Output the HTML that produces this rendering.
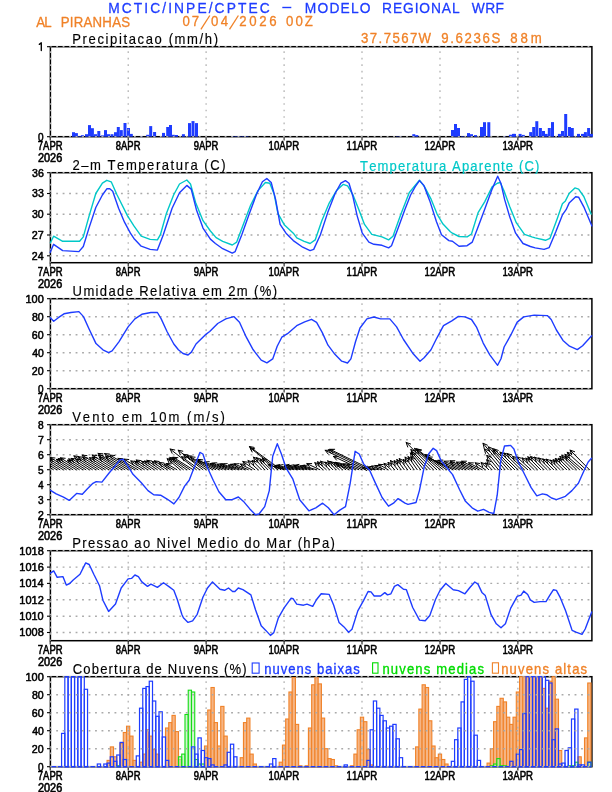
<!DOCTYPE html><html><head><meta charset="utf-8"><style>html,body{margin:0;padding:0;background:#fff;overflow:hidden;}svg{display:block;font-family:"Liberation Sans",sans-serif;}</style></head><body><svg width="612" height="792" viewBox="0 0 612 792" style="font-kerning:none;will-change:transform">
<rect width="612" height="792" fill="#fff"/>
<text transform="translate(108.17,12.50) scale(0.9200,1)" font-size="15.0" fill="#1e3cff" stroke="#1e3cff" stroke-width="0.3" stroke-linejoin="round" letter-spacing="2.262">MCTIC/INPE/CPTEC</text>
<text transform="translate(304.87,12.50) scale(0.9200,1)" font-size="15.0" fill="#1e3cff" stroke="#1e3cff" stroke-width="0.3" stroke-linejoin="round" letter-spacing="1.258">MODELO</text>
<text transform="translate(382.07,12.50) scale(0.9200,1)" font-size="15.0" fill="#1e3cff" stroke="#1e3cff" stroke-width="0.3" stroke-linejoin="round" letter-spacing="0.973">REGIONAL</text>
<text transform="translate(471.73,12.50) scale(0.9200,1)" font-size="15.0" fill="#1e3cff" stroke="#1e3cff" stroke-width="0.3" stroke-linejoin="round" letter-spacing="0.434">WRF</text>
<rect x="282.3" y="6.8" width="9.0" height="1.4" fill="#1e3cff"/>
<text transform="translate(36.27,26.60) scale(0.9200,1)" font-size="14.4" fill="#f08228" stroke="#f08228" stroke-width="0.3" stroke-linejoin="round" letter-spacing="-0.912">AL</text>
<text transform="translate(60.71,26.60) scale(0.9200,1)" font-size="14.4" fill="#f08228" stroke="#f08228" stroke-width="0.3" stroke-linejoin="round" letter-spacing="0.260">PIRANHAS</text>
<text transform="translate(182.38,26.20) scale(0.9200,1)" font-size="14.4" fill="#f08228" stroke="#f08228" stroke-width="0.3" stroke-linejoin="round" letter-spacing="2.117">07</text>
<text transform="translate(210.88,26.20) scale(0.9200,1)" font-size="14.4" fill="#f08228" stroke="#f08228" stroke-width="0.3" stroke-linejoin="round" letter-spacing="2.792">04</text>
<text transform="translate(239.34,26.20) scale(0.9200,1)" font-size="14.4" fill="#f08228" stroke="#f08228" stroke-width="0.3" stroke-linejoin="round" letter-spacing="2.819">2026</text>
<text transform="translate(286.08,26.20) scale(0.9200,1)" font-size="14.4" fill="#f08228" stroke="#f08228" stroke-width="0.3" stroke-linejoin="round" letter-spacing="2.174">00Z</text>
<text transform="translate(361.10,42.60) scale(0.9200,1)" font-size="14.4" fill="#f08228" stroke="#f08228" stroke-width="0.3" stroke-linejoin="round" letter-spacing="1.500">37.7567W</text>
<text transform="translate(441.18,42.60) scale(0.9200,1)" font-size="14.4" fill="#f08228" stroke="#f08228" stroke-width="0.3" stroke-linejoin="round" letter-spacing="1.788">9.6236S</text>
<text transform="translate(510.23,42.60) scale(0.9200,1)" font-size="14.4" fill="#f08228" stroke="#f08228" stroke-width="0.3" stroke-linejoin="round" letter-spacing="3.194">88m</text>
<line x1="200.9" y1="29.4" x2="209.8" y2="15.5" stroke="#f08228" stroke-width="1.3"/>
<line x1="229.5" y1="29.4" x2="238.4" y2="15.5" stroke="#f08228" stroke-width="1.3"/>
<rect x="50.4" y="46.7" width="541.5" height="90.0" fill="none" stroke="#000" stroke-width="1.5"/>
<line x1="50.2" y1="136.7" x2="50.2" y2="140.5" stroke="#000" stroke-width="1.0"/>
<line x1="128.2" y1="136.7" x2="128.2" y2="140.5" stroke="#000" stroke-width="1.0"/>
<line x1="206.1" y1="136.7" x2="206.1" y2="140.5" stroke="#000" stroke-width="1.0"/>
<line x1="284.1" y1="136.7" x2="284.1" y2="140.5" stroke="#000" stroke-width="1.0"/>
<line x1="362.0" y1="136.7" x2="362.0" y2="140.5" stroke="#000" stroke-width="1.0"/>
<line x1="440.0" y1="136.7" x2="440.0" y2="140.5" stroke="#000" stroke-width="1.0"/>
<line x1="517.9" y1="136.7" x2="517.9" y2="140.5" stroke="#000" stroke-width="1.0"/>
<line x1="47.0" y1="136.7" x2="50.4" y2="136.7" stroke="#000" stroke-width="1.1"/>
<line x1="47.0" y1="46.7" x2="50.4" y2="46.7" stroke="#000" stroke-width="1.1"/>
<rect x="72.0" y="132.2" width="3.0" height="4.5" fill="#1e3cff"/>
<rect x="74.9" y="133.1" width="3.0" height="3.6" fill="#1e3cff"/>
<rect x="78.0" y="136.2" width="3.0" height="0.5" fill="#1e3cff"/>
<rect x="80.9" y="135.2" width="3.0" height="1.5" fill="#1e3cff"/>
<rect x="85.0" y="134.2" width="3.0" height="2.5" fill="#1e3cff"/>
<rect x="88.0" y="125.1" width="3.0" height="11.6" fill="#1e3cff"/>
<rect x="90.9" y="128.2" width="3.0" height="8.5" fill="#1e3cff"/>
<rect x="94.0" y="134.2" width="3.0" height="2.5" fill="#1e3cff"/>
<rect x="97.3" y="131.0" width="3.0" height="5.7" fill="#1e3cff"/>
<rect x="101.0" y="135.4" width="3.0" height="1.3" fill="#1e3cff"/>
<rect x="104.0" y="130.1" width="3.0" height="6.6" fill="#1e3cff"/>
<rect x="107.0" y="134.2" width="3.0" height="2.5" fill="#1e3cff"/>
<rect x="110.5" y="134.2" width="3.0" height="2.5" fill="#1e3cff"/>
<rect x="114.0" y="132.2" width="3.0" height="4.5" fill="#1e3cff"/>
<rect x="116.8" y="127.0" width="3.0" height="9.7" fill="#1e3cff"/>
<rect x="119.8" y="130.1" width="3.0" height="6.6" fill="#1e3cff"/>
<rect x="123.5" y="123.0" width="3.0" height="13.7" fill="#1e3cff"/>
<rect x="127.0" y="128.0" width="3.0" height="8.7" fill="#1e3cff"/>
<rect x="129.8" y="133.9" width="3.0" height="2.8" fill="#1e3cff"/>
<rect x="140.0" y="136.2" width="3.0" height="0.5" fill="#1e3cff"/>
<rect x="146.2" y="134.8" width="3.0" height="1.9" fill="#1e3cff"/>
<rect x="149.2" y="126.1" width="3.0" height="10.6" fill="#1e3cff"/>
<rect x="153.1" y="132.0" width="3.0" height="4.7" fill="#1e3cff"/>
<rect x="162.0" y="132.9" width="3.0" height="3.8" fill="#1e3cff"/>
<rect x="166.2" y="127.0" width="3.0" height="9.7" fill="#1e3cff"/>
<rect x="169.0" y="125.0" width="3.0" height="11.7" fill="#1e3cff"/>
<rect x="171.8" y="134.8" width="3.0" height="1.9" fill="#1e3cff"/>
<rect x="175.0" y="135.0" width="3.0" height="1.7" fill="#1e3cff"/>
<rect x="181.9" y="134.2" width="3.0" height="2.5" fill="#1e3cff"/>
<rect x="188.0" y="123.1" width="3.0" height="13.6" fill="#1e3cff"/>
<rect x="191.5" y="121.1" width="3.0" height="15.6" fill="#1e3cff"/>
<rect x="195.0" y="123.1" width="3.0" height="13.6" fill="#1e3cff"/>
<rect x="231.5" y="136.3" width="3.0" height="0.4" fill="#1e3cff"/>
<rect x="235.0" y="136.3" width="3.0" height="0.4" fill="#1e3cff"/>
<rect x="238.5" y="136.3" width="3.0" height="0.4" fill="#1e3cff"/>
<rect x="242.0" y="136.3" width="3.0" height="0.4" fill="#1e3cff"/>
<rect x="245.5" y="136.3" width="3.0" height="0.4" fill="#1e3cff"/>
<rect x="396.0" y="136.4" width="3.0" height="0.3" fill="#1e3cff"/>
<rect x="399.0" y="136.4" width="3.0" height="0.3" fill="#1e3cff"/>
<rect x="412.3" y="134.2" width="3.0" height="2.5" fill="#1e3cff"/>
<rect x="415.3" y="135.1" width="3.0" height="1.6" fill="#1e3cff"/>
<rect x="451.0" y="130.0" width="3.0" height="6.7" fill="#1e3cff"/>
<rect x="454.0" y="124.0" width="3.0" height="12.7" fill="#1e3cff"/>
<rect x="457.0" y="128.0" width="3.0" height="8.7" fill="#1e3cff"/>
<rect x="461.0" y="136.2" width="3.0" height="0.5" fill="#1e3cff"/>
<rect x="467.0" y="133.1" width="3.0" height="3.6" fill="#1e3cff"/>
<rect x="470.0" y="134.2" width="3.0" height="2.5" fill="#1e3cff"/>
<rect x="474.0" y="135.1" width="3.0" height="1.6" fill="#1e3cff"/>
<rect x="480.0" y="127.0" width="3.0" height="9.7" fill="#1e3cff"/>
<rect x="483.0" y="122.2" width="3.0" height="14.5" fill="#1e3cff"/>
<rect x="487.3" y="122.2" width="3.0" height="14.5" fill="#1e3cff"/>
<rect x="503.0" y="136.2" width="3.0" height="0.5" fill="#1e3cff"/>
<rect x="508.9" y="134.8" width="3.0" height="1.9" fill="#1e3cff"/>
<rect x="512.0" y="133.9" width="3.0" height="2.8" fill="#1e3cff"/>
<rect x="510.0" y="134.9" width="3.0" height="1.8" fill="#1e3cff"/>
<rect x="513.0" y="133.9" width="3.0" height="2.8" fill="#1e3cff"/>
<rect x="518.6" y="133.9" width="3.0" height="2.8" fill="#1e3cff"/>
<rect x="521.8" y="134.9" width="3.0" height="1.8" fill="#1e3cff"/>
<rect x="529.2" y="132.1" width="3.0" height="4.6" fill="#1e3cff"/>
<rect x="532.2" y="127.0" width="3.0" height="9.7" fill="#1e3cff"/>
<rect x="535.3" y="121.2" width="3.0" height="15.5" fill="#1e3cff"/>
<rect x="538.9" y="128.0" width="3.0" height="8.7" fill="#1e3cff"/>
<rect x="542.0" y="131.0" width="3.0" height="5.7" fill="#1e3cff"/>
<rect x="544.7" y="133.9" width="3.0" height="2.8" fill="#1e3cff"/>
<rect x="547.8" y="128.0" width="3.0" height="8.7" fill="#1e3cff"/>
<rect x="551.0" y="122.1" width="3.0" height="14.6" fill="#1e3cff"/>
<rect x="557.9" y="133.9" width="3.0" height="2.8" fill="#1e3cff"/>
<rect x="561.0" y="131.0" width="3.0" height="5.7" fill="#1e3cff"/>
<rect x="564.2" y="114.0" width="3.0" height="22.7" fill="#1e3cff"/>
<rect x="568.0" y="127.0" width="3.0" height="9.7" fill="#1e3cff"/>
<rect x="570.8" y="128.0" width="3.0" height="8.7" fill="#1e3cff"/>
<rect x="577.0" y="133.9" width="3.0" height="2.8" fill="#1e3cff"/>
<rect x="581.0" y="133.9" width="3.0" height="2.8" fill="#1e3cff"/>
<rect x="583.9" y="132.1" width="3.0" height="4.6" fill="#1e3cff"/>
<rect x="587.1" y="128.0" width="3.0" height="8.7" fill="#1e3cff"/>
<rect x="589.9" y="133.9" width="3.0" height="2.8" fill="#1e3cff"/>
<line x1="50.4" y1="46.7" x2="50.4" y2="136.7" stroke="#aaaaaa" stroke-width="1.15" stroke-dasharray="1.7 4.78" stroke-dashoffset="1.85"/>
<line x1="128.2" y1="46.7" x2="128.2" y2="136.7" stroke="#aaaaaa" stroke-width="1.15" stroke-dasharray="1.7 4.78" stroke-dashoffset="1.85"/>
<line x1="206.1" y1="46.7" x2="206.1" y2="136.7" stroke="#aaaaaa" stroke-width="1.15" stroke-dasharray="1.7 4.78" stroke-dashoffset="1.85"/>
<line x1="284.1" y1="46.7" x2="284.1" y2="136.7" stroke="#aaaaaa" stroke-width="1.15" stroke-dasharray="1.7 4.78" stroke-dashoffset="1.85"/>
<line x1="362.0" y1="46.7" x2="362.0" y2="136.7" stroke="#aaaaaa" stroke-width="1.15" stroke-dasharray="1.7 4.78" stroke-dashoffset="1.85"/>
<line x1="440.0" y1="46.7" x2="440.0" y2="136.7" stroke="#aaaaaa" stroke-width="1.15" stroke-dasharray="1.7 4.78" stroke-dashoffset="1.85"/>
<line x1="517.9" y1="46.7" x2="517.9" y2="136.7" stroke="#aaaaaa" stroke-width="1.15" stroke-dasharray="1.7 4.78" stroke-dashoffset="1.85"/>
<line x1="50.4" y1="136.7" x2="591.9" y2="136.7" stroke="#aaaaaa" stroke-width="1.4" stroke-dasharray="1.85 4.63" stroke-dashoffset="0.72"/>
<line x1="50.4" y1="46.7" x2="591.9" y2="46.7" stroke="#aaaaaa" stroke-width="1.4" stroke-dasharray="1.85 4.63" stroke-dashoffset="0.72"/>
<rect x="50.4" y="172.7" width="541.5" height="90.0" fill="none" stroke="#000" stroke-width="1.5"/>
<line x1="50.2" y1="262.7" x2="50.2" y2="266.5" stroke="#000" stroke-width="1.0"/>
<line x1="128.2" y1="262.7" x2="128.2" y2="266.5" stroke="#000" stroke-width="1.0"/>
<line x1="206.1" y1="262.7" x2="206.1" y2="266.5" stroke="#000" stroke-width="1.0"/>
<line x1="284.1" y1="262.7" x2="284.1" y2="266.5" stroke="#000" stroke-width="1.0"/>
<line x1="362.0" y1="262.7" x2="362.0" y2="266.5" stroke="#000" stroke-width="1.0"/>
<line x1="440.0" y1="262.7" x2="440.0" y2="266.5" stroke="#000" stroke-width="1.0"/>
<line x1="517.9" y1="262.7" x2="517.9" y2="266.5" stroke="#000" stroke-width="1.0"/>
<line x1="47.0" y1="255.8" x2="50.4" y2="255.8" stroke="#000" stroke-width="1.1"/>
<line x1="47.0" y1="235.0" x2="50.4" y2="235.0" stroke="#000" stroke-width="1.1"/>
<line x1="47.0" y1="214.2" x2="50.4" y2="214.2" stroke="#000" stroke-width="1.1"/>
<line x1="47.0" y1="193.5" x2="50.4" y2="193.5" stroke="#000" stroke-width="1.1"/>
<line x1="47.0" y1="172.7" x2="50.4" y2="172.7" stroke="#000" stroke-width="1.1"/>
<line x1="50.4" y1="172.7" x2="50.4" y2="262.7" stroke="#aaaaaa" stroke-width="1.15" stroke-dasharray="1.7 4.78" stroke-dashoffset="1.85"/>
<line x1="128.2" y1="172.7" x2="128.2" y2="262.7" stroke="#aaaaaa" stroke-width="1.15" stroke-dasharray="1.7 4.78" stroke-dashoffset="1.85"/>
<line x1="206.1" y1="172.7" x2="206.1" y2="262.7" stroke="#aaaaaa" stroke-width="1.15" stroke-dasharray="1.7 4.78" stroke-dashoffset="1.85"/>
<line x1="284.1" y1="172.7" x2="284.1" y2="262.7" stroke="#aaaaaa" stroke-width="1.15" stroke-dasharray="1.7 4.78" stroke-dashoffset="1.85"/>
<line x1="362.0" y1="172.7" x2="362.0" y2="262.7" stroke="#aaaaaa" stroke-width="1.15" stroke-dasharray="1.7 4.78" stroke-dashoffset="1.85"/>
<line x1="440.0" y1="172.7" x2="440.0" y2="262.7" stroke="#aaaaaa" stroke-width="1.15" stroke-dasharray="1.7 4.78" stroke-dashoffset="1.85"/>
<line x1="517.9" y1="172.7" x2="517.9" y2="262.7" stroke="#aaaaaa" stroke-width="1.15" stroke-dasharray="1.7 4.78" stroke-dashoffset="1.85"/>
<line x1="50.4" y1="255.8" x2="591.9" y2="255.8" stroke="#aaaaaa" stroke-width="1.4" stroke-dasharray="1.85 4.63" stroke-dashoffset="0.72"/>
<line x1="50.4" y1="235.0" x2="591.9" y2="235.0" stroke="#aaaaaa" stroke-width="1.4" stroke-dasharray="1.85 4.63" stroke-dashoffset="0.72"/>
<line x1="50.4" y1="214.2" x2="591.9" y2="214.2" stroke="#aaaaaa" stroke-width="1.4" stroke-dasharray="1.85 4.63" stroke-dashoffset="0.72"/>
<line x1="50.4" y1="193.5" x2="591.9" y2="193.5" stroke="#aaaaaa" stroke-width="1.4" stroke-dasharray="1.85 4.63" stroke-dashoffset="0.72"/>
<line x1="50.4" y1="172.7" x2="591.9" y2="172.7" stroke="#aaaaaa" stroke-width="1.4" stroke-dasharray="1.85 4.63" stroke-dashoffset="0.72"/>
<polyline points="50.4,242.8 53.6,236.2 62.7,241.3 79.6,241.3 83.3,236.9 89.2,215.6 95.8,193.5 102.4,183.2 106.8,180.3 111.2,181.8 117.1,195.0 127.4,215.6 133.9,225.9 141.2,236.2 150.1,239.4 157.4,239.9 160.4,234.7 166.2,214.1 173.6,195.0 179.5,184.0 186.8,180.0 190.5,184.0 195.6,202.4 203.0,220.7 210.4,231.0 216.1,237.6 222.7,241.3 232.3,245.0 236.7,242.1 243.3,224.4 250.6,205.3 258.0,190.6 265.4,182.5 269.8,183.2 274.2,194.3 277.9,213.4 284.5,225.1 293.3,233.2 296.8,237.9 304.2,241.3 310.1,243.5 315.2,239.9 321.8,220.7 329.2,203.1 336.5,190.6 343.1,184.4 347.6,185.9 352.7,194.3 358.6,209.0 364.5,224.4 371.8,234.4 382.0,236.9 388.6,239.9 393.0,236.2 400.4,215.6 409.2,192.8 415.1,185.4 419.5,180.3 424.6,186.9 431.2,199.4 437.1,214.1 443.0,224.1 450.4,231.8 452.4,233.2 459.0,236.5 467.1,236.9 471.5,234.0 478.1,212.6 484.8,201.6 492.1,186.9 497.3,183.2 500.2,182.5 503.9,190.6 509.8,206.8 516.4,222.9 524.5,234.4 531.8,236.9 535.2,237.9 545.5,240.3 549.9,238.4 557.3,218.5 562.4,203.8 565.4,200.9 569.1,193.5 574.9,187.9 578.6,189.1 583.8,196.5 591.1,214.1" fill="none" stroke="#00c8c8" stroke-width="1.4" stroke-linejoin="round" stroke-linecap="round"/>
<polyline points="50.2,252.4 53.6,244.3 62.7,250.6 78.9,251.6 83.3,246.5 89.2,227.4 95.8,207.5 102.4,195.0 106.8,188.8 109.8,188.8 112.7,191.3 118.6,208.2 124.5,222.2 130.4,233.2 133.9,238.4 141.2,246.2 150.1,249.4 157.4,250.1 163.3,234.7 172.1,208.2 179.5,192.8 186.8,185.4 191.2,189.1 196.4,209.7 203.0,228.1 210.4,239.1 215.4,243.5 222.7,248.7 232.3,253.1 235.2,251.6 241.8,234.7 249.2,214.1 256.5,194.3 262.4,181.8 266.8,178.5 271.2,182.5 275.6,199.4 280.1,224.4 286.0,233.2 293.3,240.6 302.7,247.2 310.1,250.6 313.7,249.4 320.4,234.7 327.7,212.6 335.1,193.5 340.9,183.2 345.4,180.6 349.0,183.2 352.7,195.7 357.1,215.6 362.3,233.2 368.9,242.1 373.9,244.3 382.0,245.3 388.6,247.9 391.5,245.7 398.9,225.9 404.8,209.7 410.6,195.0 415.1,186.9 419.5,180.6 423.9,185.4 429.8,200.9 436.4,221.5 441.5,234.7 448.9,240.6 452.4,241.3 459.0,246.2 467.1,245.7 472.3,242.1 477.4,228.8 484.8,209.0 492.1,189.1 497.7,176.2 500.9,183.2 504.6,199.4 509.8,217.1 515.6,233.2 523.0,243.5 530.4,246.5 535.2,247.9 544.1,249.4 549.2,247.6 555.8,231.8 562.4,214.9 566.1,209.7 569.1,203.1 575.7,196.8 578.6,197.2 583.8,206.8 591.9,225.9" fill="none" stroke="#1e3cff" stroke-width="1.4" stroke-linejoin="round" stroke-linecap="round"/>
<rect x="50.4" y="298.7" width="541.5" height="90.0" fill="none" stroke="#000" stroke-width="1.5"/>
<line x1="50.2" y1="388.7" x2="50.2" y2="392.5" stroke="#000" stroke-width="1.0"/>
<line x1="128.2" y1="388.7" x2="128.2" y2="392.5" stroke="#000" stroke-width="1.0"/>
<line x1="206.1" y1="388.7" x2="206.1" y2="392.5" stroke="#000" stroke-width="1.0"/>
<line x1="284.1" y1="388.7" x2="284.1" y2="392.5" stroke="#000" stroke-width="1.0"/>
<line x1="362.0" y1="388.7" x2="362.0" y2="392.5" stroke="#000" stroke-width="1.0"/>
<line x1="440.0" y1="388.7" x2="440.0" y2="392.5" stroke="#000" stroke-width="1.0"/>
<line x1="517.9" y1="388.7" x2="517.9" y2="392.5" stroke="#000" stroke-width="1.0"/>
<line x1="47.0" y1="388.7" x2="50.4" y2="388.7" stroke="#000" stroke-width="1.1"/>
<line x1="47.0" y1="370.7" x2="50.4" y2="370.7" stroke="#000" stroke-width="1.1"/>
<line x1="47.0" y1="352.7" x2="50.4" y2="352.7" stroke="#000" stroke-width="1.1"/>
<line x1="47.0" y1="334.7" x2="50.4" y2="334.7" stroke="#000" stroke-width="1.1"/>
<line x1="47.0" y1="316.7" x2="50.4" y2="316.7" stroke="#000" stroke-width="1.1"/>
<line x1="47.0" y1="298.7" x2="50.4" y2="298.7" stroke="#000" stroke-width="1.1"/>
<line x1="50.4" y1="298.7" x2="50.4" y2="388.7" stroke="#aaaaaa" stroke-width="1.15" stroke-dasharray="1.7 4.78" stroke-dashoffset="1.85"/>
<line x1="128.2" y1="298.7" x2="128.2" y2="388.7" stroke="#aaaaaa" stroke-width="1.15" stroke-dasharray="1.7 4.78" stroke-dashoffset="1.85"/>
<line x1="206.1" y1="298.7" x2="206.1" y2="388.7" stroke="#aaaaaa" stroke-width="1.15" stroke-dasharray="1.7 4.78" stroke-dashoffset="1.85"/>
<line x1="284.1" y1="298.7" x2="284.1" y2="388.7" stroke="#aaaaaa" stroke-width="1.15" stroke-dasharray="1.7 4.78" stroke-dashoffset="1.85"/>
<line x1="362.0" y1="298.7" x2="362.0" y2="388.7" stroke="#aaaaaa" stroke-width="1.15" stroke-dasharray="1.7 4.78" stroke-dashoffset="1.85"/>
<line x1="440.0" y1="298.7" x2="440.0" y2="388.7" stroke="#aaaaaa" stroke-width="1.15" stroke-dasharray="1.7 4.78" stroke-dashoffset="1.85"/>
<line x1="517.9" y1="298.7" x2="517.9" y2="388.7" stroke="#aaaaaa" stroke-width="1.15" stroke-dasharray="1.7 4.78" stroke-dashoffset="1.85"/>
<line x1="50.4" y1="388.7" x2="591.9" y2="388.7" stroke="#aaaaaa" stroke-width="1.4" stroke-dasharray="1.85 4.63" stroke-dashoffset="0.72"/>
<line x1="50.4" y1="370.7" x2="591.9" y2="370.7" stroke="#aaaaaa" stroke-width="1.4" stroke-dasharray="1.85 4.63" stroke-dashoffset="0.72"/>
<line x1="50.4" y1="352.7" x2="591.9" y2="352.7" stroke="#aaaaaa" stroke-width="1.4" stroke-dasharray="1.85 4.63" stroke-dashoffset="0.72"/>
<line x1="50.4" y1="334.7" x2="591.9" y2="334.7" stroke="#aaaaaa" stroke-width="1.4" stroke-dasharray="1.85 4.63" stroke-dashoffset="0.72"/>
<line x1="50.4" y1="316.7" x2="591.9" y2="316.7" stroke="#aaaaaa" stroke-width="1.4" stroke-dasharray="1.85 4.63" stroke-dashoffset="0.72"/>
<line x1="50.4" y1="298.7" x2="591.9" y2="298.7" stroke="#aaaaaa" stroke-width="1.4" stroke-dasharray="1.85 4.63" stroke-dashoffset="0.72"/>
<polyline points="50.3,317.7 53.7,321.2 58.3,317.7 64.0,313.8 70.9,312.5 78.9,311.6 83.5,316.6 89.2,329.2 96.0,343.6 102.9,349.8 108.6,352.7 112.1,350.9 118.9,341.8 128.1,326.9 134.9,318.9 141.8,314.3 150.9,312.5 157.4,312.5 161.2,318.9 167.0,331.5 173.8,344.0 178.4,349.8 183.0,353.5 188.0,355.0 191.4,352.1 196.0,344.0 205.2,334.9 209.7,331.5 217.7,323.5 225.8,318.9 233.8,316.6 239.5,322.3 246.3,337.2 253.2,349.8 261.2,360.1 266.9,362.8 272.7,358.9 277.2,346.3 281.8,337.2 287.5,333.7 296.7,325.7 304.7,321.9 311.5,319.3 316.6,322.3 322.3,332.6 328.0,345.2 334.9,354.3 341.7,361.2 347.5,363.0 350.9,358.9 355.5,341.8 360.0,328.0 366.9,318.9 373.8,317.0 380.6,318.9 389.8,318.9 396.6,326.9 403.5,339.5 412.7,353.2 420.0,361.2 424.1,357.8 431.0,349.8 436.7,338.3 443.5,325.7 451.8,320.8 458.4,316.4 464.9,316.9 471.5,319.5 476.7,327.4 483.2,343.1 489.8,354.8 497.6,365.3 501.0,358.7 504.1,347.0 510.7,335.2 517.2,322.1 523.7,316.9 534.2,315.1 547.3,315.6 551.2,319.5 556.4,330.0 563.0,340.4 569.5,346.2 577.3,349.6 582.6,345.7 591.7,335.7" fill="none" stroke="#1e3cff" stroke-width="1.4" stroke-linejoin="round" stroke-linecap="round"/>
<rect x="50.4" y="424.7" width="541.5" height="90.0" fill="none" stroke="#000" stroke-width="1.5"/>
<line x1="50.2" y1="514.7" x2="50.2" y2="518.5" stroke="#000" stroke-width="1.0"/>
<line x1="128.2" y1="514.7" x2="128.2" y2="518.5" stroke="#000" stroke-width="1.0"/>
<line x1="206.1" y1="514.7" x2="206.1" y2="518.5" stroke="#000" stroke-width="1.0"/>
<line x1="284.1" y1="514.7" x2="284.1" y2="518.5" stroke="#000" stroke-width="1.0"/>
<line x1="362.0" y1="514.7" x2="362.0" y2="518.5" stroke="#000" stroke-width="1.0"/>
<line x1="440.0" y1="514.7" x2="440.0" y2="518.5" stroke="#000" stroke-width="1.0"/>
<line x1="517.9" y1="514.7" x2="517.9" y2="518.5" stroke="#000" stroke-width="1.0"/>
<line x1="47.0" y1="514.7" x2="50.4" y2="514.7" stroke="#000" stroke-width="1.1"/>
<line x1="47.0" y1="499.7" x2="50.4" y2="499.7" stroke="#000" stroke-width="1.1"/>
<line x1="47.0" y1="484.7" x2="50.4" y2="484.7" stroke="#000" stroke-width="1.1"/>
<line x1="47.0" y1="469.7" x2="50.4" y2="469.7" stroke="#000" stroke-width="1.1"/>
<line x1="47.0" y1="454.7" x2="50.4" y2="454.7" stroke="#000" stroke-width="1.1"/>
<line x1="47.0" y1="439.7" x2="50.4" y2="439.7" stroke="#000" stroke-width="1.1"/>
<line x1="47.0" y1="424.7" x2="50.4" y2="424.7" stroke="#000" stroke-width="1.1"/>
<line x1="50.4" y1="424.7" x2="50.4" y2="514.7" stroke="#aaaaaa" stroke-width="1.15" stroke-dasharray="1.7 4.78" stroke-dashoffset="1.85"/>
<line x1="128.2" y1="424.7" x2="128.2" y2="514.7" stroke="#aaaaaa" stroke-width="1.15" stroke-dasharray="1.7 4.78" stroke-dashoffset="1.85"/>
<line x1="206.1" y1="424.7" x2="206.1" y2="514.7" stroke="#aaaaaa" stroke-width="1.15" stroke-dasharray="1.7 4.78" stroke-dashoffset="1.85"/>
<line x1="284.1" y1="424.7" x2="284.1" y2="514.7" stroke="#aaaaaa" stroke-width="1.15" stroke-dasharray="1.7 4.78" stroke-dashoffset="1.85"/>
<line x1="362.0" y1="424.7" x2="362.0" y2="514.7" stroke="#aaaaaa" stroke-width="1.15" stroke-dasharray="1.7 4.78" stroke-dashoffset="1.85"/>
<line x1="440.0" y1="424.7" x2="440.0" y2="514.7" stroke="#aaaaaa" stroke-width="1.15" stroke-dasharray="1.7 4.78" stroke-dashoffset="1.85"/>
<line x1="517.9" y1="424.7" x2="517.9" y2="514.7" stroke="#aaaaaa" stroke-width="1.15" stroke-dasharray="1.7 4.78" stroke-dashoffset="1.85"/>
<line x1="50.4" y1="514.7" x2="591.9" y2="514.7" stroke="#aaaaaa" stroke-width="1.4" stroke-dasharray="1.85 4.63" stroke-dashoffset="0.72"/>
<line x1="50.4" y1="499.7" x2="591.9" y2="499.7" stroke="#aaaaaa" stroke-width="1.4" stroke-dasharray="1.85 4.63" stroke-dashoffset="0.72"/>
<line x1="50.4" y1="484.7" x2="591.9" y2="484.7" stroke="#aaaaaa" stroke-width="1.4" stroke-dasharray="1.85 4.63" stroke-dashoffset="0.72"/>
<line x1="50.4" y1="469.7" x2="591.9" y2="469.7" stroke="#aaaaaa" stroke-width="1.4" stroke-dasharray="1.85 4.63" stroke-dashoffset="0.72"/>
<line x1="50.4" y1="454.7" x2="591.9" y2="454.7" stroke="#aaaaaa" stroke-width="1.4" stroke-dasharray="1.85 4.63" stroke-dashoffset="0.72"/>
<line x1="50.4" y1="439.7" x2="591.9" y2="439.7" stroke="#aaaaaa" stroke-width="1.4" stroke-dasharray="1.85 4.63" stroke-dashoffset="0.72"/>
<line x1="50.4" y1="424.7" x2="591.9" y2="424.7" stroke="#aaaaaa" stroke-width="1.4" stroke-dasharray="1.85 4.63" stroke-dashoffset="0.72"/>
<defs><clipPath id="cw"><rect x="50.4" y="424.7" width="541.5" height="90"/></clipPath></defs>
<g clip-path="url(#cw)" stroke="#000" stroke-width="1.0" fill="none" stroke-linecap="round" stroke-linejoin="round">
<path d="M50.2,469.7L31.5,458.0M34.1,462.1L31.5,458.0L36.3,458.5"/>
<path d="M53.4,469.7L35.4,458.4M38.0,462.5L35.4,458.4L40.2,458.9"/>
<path d="M56.7,469.7L39.8,459.2M42.4,463.2L39.8,459.2L44.6,459.7"/>
<path d="M59.9,469.7L40.7,457.7M43.3,461.7L40.7,457.7L45.5,458.2"/>
<path d="M63.2,469.7L45.9,458.9M48.4,463.0L45.9,458.9L50.7,459.4"/>
<path d="M66.4,469.7L49.2,458.9M51.8,463.0L49.2,458.9L54.0,459.4"/>
<path d="M69.7,469.7L50.2,457.5M52.7,461.6L50.2,457.5L55.0,458.0"/>
<path d="M72.9,469.7L56.4,459.4M58.9,463.4L56.4,459.4L61.2,459.9"/>
<path d="M76.2,469.7L58.2,458.5M60.8,462.5L58.2,458.5L63.0,459.0"/>
<path d="M79.4,469.7L60.5,457.8M63.0,461.9L60.5,457.8L65.2,458.3"/>
<path d="M82.7,469.7L67.5,460.2M70.0,464.3L67.5,460.2L72.3,460.7"/>
<path d="M85.9,469.7L68.7,458.9M71.3,463.0L68.7,458.9L73.5,459.4"/>
<path d="M89.2,469.7L71.3,458.4M73.8,462.5L71.3,458.4L76.1,458.9"/>
<path d="M92.4,469.7L76.2,459.3M78.7,463.4L76.2,459.3L81.0,459.9"/>
<path d="M95.7,469.7L73.9,455.9M76.4,460.0L73.9,455.9L78.7,456.5"/>
<path d="M98.9,469.7L78.2,456.7M80.7,460.7L78.2,456.7L82.9,457.2"/>
<path d="M102.2,469.7L82.9,457.6M85.5,461.7L82.9,457.6L87.7,458.1"/>
<path d="M105.4,469.7L82.1,455.1M84.6,459.1L82.1,455.1L86.9,455.6"/>
<path d="M108.7,469.7L89.5,457.7M92.1,461.8L89.5,457.7L94.3,458.2"/>
<path d="M111.9,469.7L92.2,457.3M94.7,461.4L92.2,457.3L97.0,457.8"/>
<path d="M115.2,469.7L92.1,455.0M94.6,459.1L92.1,455.0L96.9,455.6"/>
<path d="M118.4,469.7L99.4,457.5M101.9,461.6L99.4,457.5L104.1,458.1"/>
<path d="M121.7,469.7L98.2,455.1M100.7,459.1L98.2,455.1L103.0,455.6"/>
<path d="M124.9,469.7L98.1,453.4M100.7,457.4L98.1,453.4L102.9,453.8"/>
<path d="M128.2,469.7L105.7,456.2M108.3,460.2L105.7,456.2L110.5,456.6"/>
<path d="M131.4,469.7L104.6,453.6M107.3,457.6L104.6,453.6L109.4,454.0"/>
<path d="M134.6,469.7L110.0,455.1M112.6,459.1L110.0,455.1L114.8,455.5"/>
<path d="M137.9,469.7L118.0,458.4M120.7,462.3L118.0,458.4L122.7,458.7"/>
<path d="M141.1,469.7L124.0,459.1M126.6,463.1L124.0,459.1L128.8,459.5"/>
<path d="M144.4,469.7L130.8,460.9M133.3,465.0L130.8,460.9L135.6,461.5"/>
<path d="M147.6,469.7L134.8,461.3M137.2,465.4L134.8,461.3L139.5,461.9"/>
<path d="M150.9,469.7L136.2,460.0M138.7,464.1L136.2,460.0L141.0,460.6"/>
<path d="M154.1,469.7L141.6,461.3M144.0,465.5L141.6,461.3L146.4,462.0"/>
<path d="M157.4,469.7L144.5,461.0M146.9,465.2L144.5,461.0L149.3,461.7"/>
<path d="M160.6,469.7L146.9,460.3M149.3,464.5L146.9,460.3L151.7,461.0"/>
<path d="M163.9,469.7L152.1,461.5M154.4,465.7L152.1,461.5L156.8,462.2"/>
<path d="M167.1,469.7L154.4,460.8M156.7,465.0L154.4,460.8L159.1,461.5"/>
<path d="M170.4,469.7L159.1,462.4M161.6,466.5L159.1,462.4L163.9,463.0"/>
<path d="M173.6,469.7L164.1,464.0M166.8,468.0L164.1,464.0L168.9,464.4"/>
<path d="M176.9,469.7L166.5,463.5M169.1,467.5L166.5,463.5L171.3,463.9"/>
<path d="M180.1,469.7L167.1,458.7M169.1,463.1L167.1,458.7L171.8,459.9"/>
<path d="M183.4,469.7L169.0,458.5M171.1,462.8L169.0,458.5L173.7,459.5"/>
<path d="M186.6,469.7L169.8,457.5M172.1,461.8L169.8,457.5L174.6,458.4"/>
<path d="M189.9,469.7L171.9,457.7M174.3,461.8L171.9,457.7L176.6,458.3"/>
<path d="M193.1,469.7L173.1,457.2M175.7,461.3L173.1,457.2L177.9,457.7"/>
<path d="M196.4,469.7L170.1,449.0M172.1,453.3L170.1,449.0L174.8,450.0"/>
<path d="M199.6,469.7L181.6,456.7M183.9,460.9L181.6,456.7L186.3,457.5"/>
<path d="M202.9,469.7L178.2,450.2M180.2,454.5L178.2,450.2L182.8,451.2"/>
<path d="M206.1,469.7L183.4,454.3M185.8,458.5L183.4,454.3L188.2,455.0"/>
<path d="M209.4,469.7L187.2,455.6M189.7,459.7L187.2,455.6L192.0,456.1"/>
<path d="M212.6,469.7L190.3,456.8M193.0,460.8L190.3,456.8L195.1,457.2"/>
<path d="M215.8,469.7L196.3,459.4M199.2,463.3L196.3,459.4L201.1,459.6"/>
<path d="M219.1,469.7L198.0,459.9M201.1,463.6L198.0,459.9L202.8,459.8"/>
<path d="M222.3,469.7L204.5,461.9M207.6,465.6L204.5,461.9L209.3,461.7"/>
<path d="M225.6,469.7L210.3,463.5M213.5,467.1L210.3,463.5L215.0,463.2"/>
<path d="M228.8,469.7L212.0,463.2M215.3,466.7L212.0,463.2L216.8,462.8"/>
<path d="M232.1,469.7L217.3,464.2M220.6,467.7L217.3,464.2L222.1,463.7"/>
<path d="M235.3,469.7L220.2,464.3M223.6,467.7L220.2,464.3L225.0,463.8"/>
<path d="M238.6,469.7L222.4,464.2M225.8,467.6L222.4,464.2L227.2,463.6"/>
<path d="M241.8,469.7L228.4,465.0M231.8,468.4L228.4,465.0L233.2,464.5"/>
<path d="M245.1,469.7L230.7,464.3M234.0,467.8L230.7,464.3L235.4,463.8"/>
<path d="M248.3,469.7L234.3,464.0M237.5,467.6L234.3,464.0L239.1,463.7"/>
<path d="M251.6,469.7L240.4,464.1M243.3,467.9L240.4,464.1L245.2,464.2"/>
<path d="M254.8,469.7L242.8,461.5M245.2,465.7L242.8,461.5L247.5,462.2"/>
<path d="M258.1,469.7L248.0,460.6M249.8,465.1L248.0,460.6L252.6,461.9"/>
<path d="M261.3,469.7L252.2,460.4M253.7,465.0L252.2,460.4L256.7,462.0"/>
<path d="M264.6,469.7L253.5,457.1M254.8,461.8L253.5,457.1L257.9,459.0"/>
<path d="M267.8,469.7L256.5,457.6M257.9,462.2L256.5,457.6L261.0,459.3"/>
<path d="M271.1,469.7L260.1,459.2M261.7,463.7L260.1,459.2L264.6,460.7"/>
<path d="M274.3,469.7L262.3,458.2M264.0,462.7L262.3,458.2L266.9,459.7"/>
<path d="M277.6,469.7L250.1,447.7M252.1,452.0L250.1,447.7L254.7,448.8"/>
<path d="M280.8,469.7L249.4,446.5M251.6,450.8L249.4,446.5L254.1,447.4"/>
<path d="M284.1,469.7L268.1,464.7M271.5,468.0L268.1,464.7L272.8,464.0"/>
<path d="M287.3,469.7L274.1,466.2M277.8,469.3L274.1,466.2L278.9,465.3"/>
<path d="M290.6,469.7L275.0,465.5M278.6,468.6L275.0,465.5L279.7,464.6"/>
<path d="M293.8,469.7L278.4,465.5M282.0,468.7L278.4,465.5L283.1,464.6"/>
<path d="M297.0,469.7L284.1,466.2M287.7,469.3L284.1,466.2L288.8,465.3"/>
<path d="M300.3,469.7L284.4,465.3M288.0,468.5L284.4,465.3L289.1,464.4"/>
<path d="M303.5,469.7L289.2,465.7M292.8,468.9L289.2,465.7L293.9,464.8"/>
<path d="M306.8,469.7L293.6,466.0M297.2,469.2L293.6,466.0L298.4,465.2"/>
<path d="M310.0,469.7L294.3,465.3M297.9,468.5L294.3,465.3L299.0,464.4"/>
<path d="M313.3,469.7L299.9,465.9M303.5,469.1L299.9,465.9L304.6,465.1"/>
<path d="M316.5,469.7L303.0,465.8M306.6,469.0L303.0,465.8L307.7,465.0"/>
<path d="M319.8,469.7L306.9,463.6M309.9,467.4L306.9,463.6L311.7,463.6"/>
<path d="M323.0,469.7L314.8,462.7M316.7,467.1L314.8,462.7L319.5,463.9"/>
<path d="M326.3,469.7L317.5,461.8M319.3,466.3L317.5,461.8L322.1,463.1"/>
<path d="M329.5,469.7L320.6,461.2M322.3,465.7L320.6,461.2L325.2,462.6"/>
<path d="M332.8,469.7L325.2,462.1M326.7,466.6L325.2,462.1L329.7,463.7"/>
<path d="M336.0,469.7L327.7,460.8M329.1,465.4L327.7,460.8L332.2,462.5"/>
<path d="M339.3,469.7L330.5,461.6M332.2,466.0L330.5,461.6L335.1,462.9"/>
<path d="M342.5,469.7L333.7,462.6M335.8,466.9L333.7,462.6L338.4,463.7"/>
<path d="M345.8,469.7L335.3,462.3M337.6,466.5L335.3,462.3L340.0,463.1"/>
<path d="M349.0,469.7L337.2,463.8M340.1,467.6L337.2,463.8L342.0,463.8"/>
<path d="M352.3,469.7L340.5,464.1M343.5,467.9L340.5,464.1L345.3,464.1"/>
<path d="M355.5,469.7L343.0,464.0M346.1,467.7L343.0,464.0L347.8,463.9"/>
<path d="M358.8,469.7L347.1,464.7M350.2,468.3L347.1,464.7L351.9,464.4"/>
<path d="M362.0,469.7L333.4,456.4M336.5,460.1L333.4,456.4L338.2,456.3"/>
<path d="M365.3,469.7L325.2,450.3M328.2,454.1L325.2,450.3L330.0,450.3"/>
<path d="M368.5,469.7L328.5,449.8M331.4,453.6L328.5,449.8L333.3,449.8"/>
<path d="M371.8,469.7L329.9,449.3M332.9,453.1L329.9,449.3L334.7,449.3"/>
<path d="M375.0,469.7L362.7,467.7M366.6,470.5L362.7,467.7L367.3,466.3"/>
<path d="M378.2,469.7L367.7,467.1M371.4,470.2L367.7,467.1L372.4,466.1"/>
<path d="M381.5,469.7L371.4,466.3M374.8,469.7L371.4,466.3L376.1,465.7"/>
<path d="M384.7,469.7L375.1,465.6M378.2,469.2L375.1,465.6L379.8,465.4"/>
<path d="M388.0,469.7L378.7,464.3M381.3,468.3L378.7,464.3L383.4,464.6"/>
<path d="M391.2,469.7L384.0,463.4M385.7,467.4L384.0,463.4L388.2,464.5"/>
<path d="M394.5,469.7L388.0,462.3M389.2,466.6L388.0,462.3L392.1,464.0"/>
<path d="M397.7,469.7L390.5,460.5M391.5,465.2L390.5,460.5L394.8,462.6"/>
<path d="M401.0,469.7L394.3,460.6M395.1,465.3L394.3,460.6L398.5,462.8"/>
<path d="M404.2,469.7L396.8,459.5M397.6,464.2L396.8,459.5L401.0,461.7"/>
<path d="M407.5,469.7L399.3,458.5M400.2,463.3L399.3,458.5L403.6,460.8"/>
<path d="M410.7,469.7L403.3,459.4M404.1,464.1L403.3,459.4L407.5,461.7"/>
<path d="M414.0,469.7L405.1,457.1M405.8,461.9L405.1,457.1L409.3,459.4"/>
<path d="M417.2,469.7L408.1,456.6M408.9,461.4L408.1,456.6L412.3,459.0"/>
<path d="M420.5,469.7L410.9,456.8M411.8,461.5L410.9,456.8L415.2,459.0"/>
<path d="M423.7,469.7L410.4,452.9M411.4,457.6L410.4,452.9L414.7,455.0"/>
<path d="M427.0,469.7L411.5,452.1M412.7,456.7L411.5,452.1L415.9,453.9"/>
<path d="M430.2,469.7L410.9,449.6M412.4,454.2L410.9,449.6L415.4,451.2"/>
<path d="M433.5,469.7L406.1,442.4M407.7,447.0L406.1,442.4L410.6,444.0"/>
<path d="M436.7,469.7L414.5,448.4M416.1,452.9L414.5,448.4L419.0,449.8"/>
<path d="M440.0,469.7L416.4,449.2M418.3,453.6L416.4,449.2L421.1,450.5"/>
<path d="M443.2,469.7L416.8,448.9M418.9,453.2L416.8,448.9L421.5,449.9"/>
<path d="M446.5,469.7L425.1,454.8M427.5,459.0L425.1,454.8L429.9,455.5"/>
<path d="M449.7,469.7L424.9,454.8M427.5,458.9L424.9,454.8L429.7,455.2"/>
<path d="M453.0,469.7L427.5,457.0M430.4,460.8L427.5,457.0L432.3,457.1"/>
<path d="M456.2,469.7L435.5,460.9M438.6,464.5L435.5,460.9L440.3,460.7"/>
<path d="M459.4,469.7L438.1,460.3M441.2,463.9L438.1,460.3L442.9,460.1"/>
<path d="M462.7,469.7L444.0,461.2M447.0,464.9L444.0,461.2L448.8,461.1"/>
<path d="M465.9,469.7L449.9,462.3M453.0,466.0L449.9,462.3L454.7,462.2"/>
<path d="M469.2,469.7L450.1,460.8M453.1,464.5L450.1,460.8L454.9,460.7"/>
<path d="M472.4,469.7L456.5,462.1M459.5,465.9L456.5,462.1L461.3,462.1"/>
<path d="M475.7,469.7L460.6,462.4M463.6,466.2L460.6,462.4L465.4,462.4"/>
<path d="M478.9,469.7L461.7,461.2M464.6,465.0L461.7,461.2L466.5,461.2"/>
<path d="M482.2,469.7L468.6,462.8M471.5,466.7L468.6,462.8L473.4,462.9"/>
<path d="M485.4,469.7L475.1,462.8M477.5,467.0L475.1,462.8L479.8,463.5"/>
<path d="M488.7,469.7L481.1,462.5M482.7,466.9L481.1,462.5L485.6,463.9"/>
<path d="M491.9,469.7L485.6,462.9M486.8,466.9L485.6,462.9L489.5,464.4"/>
<path d="M495.2,469.7L486.7,459.8M487.9,464.4L486.7,459.8L491.1,461.7"/>
<path d="M498.4,469.7L486.8,455.3M487.9,460.0L486.8,455.3L491.1,457.3"/>
<path d="M501.7,469.7L484.3,448.8M485.5,453.4L484.3,448.8L488.7,450.7"/>
<path d="M504.9,469.7L483.0,443.2M484.1,447.9L483.0,443.2L487.4,445.2"/>
<path d="M508.2,469.7L488.4,446.8M489.6,451.5L488.4,446.8L492.8,448.7"/>
<path d="M511.4,469.7L492.8,449.7M494.2,454.3L492.8,449.7L497.3,451.4"/>
<path d="M514.7,469.7L493.7,448.8M495.3,453.4L493.7,448.8L498.3,450.4"/>
<path d="M517.9,469.7L499.9,452.1M501.5,456.6L499.9,452.1L504.4,453.6"/>
<path d="M521.2,469.7L504.1,453.0M505.7,457.5L504.1,453.0L508.6,454.5"/>
<path d="M524.4,469.7L507.2,453.5M508.9,458.0L507.2,453.5L511.8,455.0"/>
<path d="M527.7,469.7L512.6,456.4M514.4,460.8L512.6,456.4L517.2,457.7"/>
<path d="M530.9,469.7L516.7,456.9M518.5,461.3L516.7,456.9L521.3,458.2"/>
<path d="M534.2,469.7L522.1,457.9M523.7,462.4L522.1,457.9L526.6,459.4"/>
<path d="M537.4,469.7L525.9,458.2M527.4,462.7L525.9,458.2L530.4,459.7"/>
<path d="M540.6,469.7L527.8,456.8M529.3,461.3L527.8,456.8L532.3,458.4"/>
<path d="M543.9,469.7L530.7,456.5M532.3,461.0L530.7,456.5L535.2,458.1"/>
<path d="M547.1,469.7L534.6,457.2M536.2,461.7L534.6,457.2L539.2,458.8"/>
<path d="M550.4,469.7L538.6,457.9M540.2,462.4L538.6,457.9L543.1,459.5"/>
<path d="M553.6,469.7L542.9,458.9M544.4,463.5L542.9,458.9L547.4,460.5"/>
<path d="M556.9,469.7L546.2,459.1M547.8,463.6L546.2,459.1L550.8,460.6"/>
<path d="M560.1,469.7L550.6,460.2M552.2,464.7L550.6,460.2L555.1,461.7"/>
<path d="M563.4,469.7L553.3,459.6M554.9,464.2L553.3,459.6L557.8,461.2"/>
<path d="M566.6,469.7L555.3,458.4M556.9,463.0L555.3,458.4L559.9,460.0"/>
<path d="M569.9,469.7L558.5,458.4M560.1,462.9L558.5,458.4L563.1,459.9"/>
<path d="M573.1,469.7L559.8,456.4M561.4,461.0L559.8,456.4L564.4,458.0"/>
<path d="M576.4,469.7L561.8,455.4M563.4,459.9L561.8,455.4L566.3,456.9"/>
<path d="M579.6,469.7L565.1,456.5M566.9,460.9L565.1,456.5L569.7,457.8"/>
<path d="M582.9,469.7L564.9,454.4M566.8,458.8L564.9,454.4L569.6,455.6"/>
<path d="M586.1,469.7L567.2,452.3M569.0,456.8L567.2,452.3L571.8,453.7"/>
<path d="M589.4,469.7L570.1,450.1M571.6,454.6L570.1,450.1L574.6,451.7"/>
</g>
<polyline points="50.5,490.3 56.2,493.9 63.5,497.2 69.2,500.4 76.6,493.4 82.3,494.2 87.2,489.0 92.9,483.3 96.2,481.6 101.9,482.1 109.3,472.7 115.0,466.1 119.9,459.9 123.2,459.3 127.2,464.8 133.0,474.3 141.1,482.5 148.0,490.6 153.7,494.8 160.6,495.2 167.5,499.3 173.9,503.9 178.9,497.5 184.6,486.1 189.2,480.3 194.9,465.5 199.9,452.4 202.9,454.0 207.5,467.8 213.2,480.3 218.9,491.8 225.8,499.8 231.5,499.8 238.4,497.0 244.1,502.1 249.8,508.9 255.5,514.7 259.0,514.0 264.7,506.6 269.3,490.6 272.7,456.3 277.3,443.7 281.4,454.0 286.0,467.8 292.9,479.2 299.7,499.8 308.9,510.8 315.8,507.8 322.6,503.2 328.3,507.8 334.1,514.7 339.8,510.1 345.5,506.6 350.1,483.8 355.1,451.3 359.2,454.0 363.8,464.3 369.5,470.0 375.2,482.6 382.1,497.5 388.5,506.2 393.5,503.2 398.1,498.6 405.0,503.2 408.0,504.4 416.0,502.5 419.4,490.6 424.0,467.8 428.6,454.0 433.2,448.3 436.6,450.6 441.2,460.9 446.9,467.8 452.6,474.6 459.5,489.5 465.2,500.9 472.1,507.8 477.8,511.2 483.5,509.4 489.2,512.4 493.8,513.5 497.2,495.2 500.7,460.9 504.5,446.0 510.6,445.4 513.9,449.0 518.0,461.2 524.5,474.3 531.0,487.4 536.8,495.9 542.5,493.9 546.6,494.7 551.5,498.0 556.4,499.6 565.4,496.3 571.9,490.6 578.4,483.3 584.2,470.2 588.2,462.0 591.5,458.3" fill="none" stroke="#1e3cff" stroke-width="1.4" stroke-linejoin="round" stroke-linecap="round"/>
<rect x="50.4" y="550.7" width="541.5" height="90.0" fill="none" stroke="#000" stroke-width="1.5"/>
<line x1="50.2" y1="640.7" x2="50.2" y2="644.5" stroke="#000" stroke-width="1.0"/>
<line x1="128.2" y1="640.7" x2="128.2" y2="644.5" stroke="#000" stroke-width="1.0"/>
<line x1="206.1" y1="640.7" x2="206.1" y2="644.5" stroke="#000" stroke-width="1.0"/>
<line x1="284.1" y1="640.7" x2="284.1" y2="644.5" stroke="#000" stroke-width="1.0"/>
<line x1="362.0" y1="640.7" x2="362.0" y2="644.5" stroke="#000" stroke-width="1.0"/>
<line x1="440.0" y1="640.7" x2="440.0" y2="644.5" stroke="#000" stroke-width="1.0"/>
<line x1="517.9" y1="640.7" x2="517.9" y2="644.5" stroke="#000" stroke-width="1.0"/>
<line x1="47.0" y1="632.5" x2="50.4" y2="632.5" stroke="#000" stroke-width="1.1"/>
<line x1="47.0" y1="616.2" x2="50.4" y2="616.2" stroke="#000" stroke-width="1.1"/>
<line x1="47.0" y1="599.8" x2="50.4" y2="599.8" stroke="#000" stroke-width="1.1"/>
<line x1="47.0" y1="583.4" x2="50.4" y2="583.4" stroke="#000" stroke-width="1.1"/>
<line x1="47.0" y1="567.1" x2="50.4" y2="567.1" stroke="#000" stroke-width="1.1"/>
<line x1="47.0" y1="550.7" x2="50.4" y2="550.7" stroke="#000" stroke-width="1.1"/>
<line x1="50.4" y1="550.7" x2="50.4" y2="640.7" stroke="#aaaaaa" stroke-width="1.15" stroke-dasharray="1.7 4.78" stroke-dashoffset="1.85"/>
<line x1="128.2" y1="550.7" x2="128.2" y2="640.7" stroke="#aaaaaa" stroke-width="1.15" stroke-dasharray="1.7 4.78" stroke-dashoffset="1.85"/>
<line x1="206.1" y1="550.7" x2="206.1" y2="640.7" stroke="#aaaaaa" stroke-width="1.15" stroke-dasharray="1.7 4.78" stroke-dashoffset="1.85"/>
<line x1="284.1" y1="550.7" x2="284.1" y2="640.7" stroke="#aaaaaa" stroke-width="1.15" stroke-dasharray="1.7 4.78" stroke-dashoffset="1.85"/>
<line x1="362.0" y1="550.7" x2="362.0" y2="640.7" stroke="#aaaaaa" stroke-width="1.15" stroke-dasharray="1.7 4.78" stroke-dashoffset="1.85"/>
<line x1="440.0" y1="550.7" x2="440.0" y2="640.7" stroke="#aaaaaa" stroke-width="1.15" stroke-dasharray="1.7 4.78" stroke-dashoffset="1.85"/>
<line x1="517.9" y1="550.7" x2="517.9" y2="640.7" stroke="#aaaaaa" stroke-width="1.15" stroke-dasharray="1.7 4.78" stroke-dashoffset="1.85"/>
<line x1="50.4" y1="632.5" x2="591.9" y2="632.5" stroke="#aaaaaa" stroke-width="1.4" stroke-dasharray="1.85 4.63" stroke-dashoffset="0.72"/>
<line x1="50.4" y1="616.2" x2="591.9" y2="616.2" stroke="#aaaaaa" stroke-width="1.4" stroke-dasharray="1.85 4.63" stroke-dashoffset="0.72"/>
<line x1="50.4" y1="599.8" x2="591.9" y2="599.8" stroke="#aaaaaa" stroke-width="1.4" stroke-dasharray="1.85 4.63" stroke-dashoffset="0.72"/>
<line x1="50.4" y1="583.4" x2="591.9" y2="583.4" stroke="#aaaaaa" stroke-width="1.4" stroke-dasharray="1.85 4.63" stroke-dashoffset="0.72"/>
<line x1="50.4" y1="567.1" x2="591.9" y2="567.1" stroke="#aaaaaa" stroke-width="1.4" stroke-dasharray="1.85 4.63" stroke-dashoffset="0.72"/>
<line x1="50.4" y1="550.7" x2="591.9" y2="550.7" stroke="#aaaaaa" stroke-width="1.4" stroke-dasharray="1.85 4.63" stroke-dashoffset="0.72"/>
<polyline points="50.3,573.2 53.7,570.9 57.2,577.3 62.9,576.6 66.3,585.1 69.7,583.5 73.2,580.0 80.0,574.3 85.7,562.9 89.2,564.5 93.8,574.3 99.5,585.7 102.9,600.2 108.6,611.4 115.5,604.1 121.2,588.0 128.1,578.9 131.5,578.4 134.9,575.0 138.4,576.6 141.8,581.9 147.5,586.4 150.9,584.1 157.4,587.4 163.5,582.8 169.3,586.9 173.8,590.3 177.3,599.5 181.8,614.3 183.4,617.8 188.0,622.4 192.6,620.8 197.2,614.3 202.9,597.2 207.5,588.0 212.5,581.9 220.0,589.2 224.6,590.3 228.5,588.0 232.6,591.5 234.9,591.5 238.3,588.0 242.9,589.6 250.9,594.9 255.5,609.8 261.2,625.8 265.8,630.4 270.4,635.4 273.8,632.6 278.4,617.8 284.1,607.9 291.0,598.3 293.2,598.8 296.7,604.1 303.5,605.2 307.0,604.1 312.7,606.3 316.6,599.5 321.2,593.8 329.2,594.4 333.7,605.2 339.0,622.4 344.0,626.9 348.6,632.2 352.0,629.2 357.8,610.9 363.5,600.6 368.1,591.5 371.0,591.9 374.2,596.0 380.6,596.0 384.8,592.6 387.5,594.9 390.9,593.8 394.4,586.4 397.8,584.6 403.5,589.2 406.3,589.6 412.7,607.5 419.5,620.1 425.2,620.8 429.8,615.5 435.5,599.5 440.1,590.3 445.8,583.5 453.2,589.8 458.4,590.6 464.9,593.8 470.1,587.2 474.8,582.0 478.0,584.1 481.9,592.4 485.3,595.6 491.1,614.7 496.3,623.8 501.0,627.7 505.4,623.8 510.7,608.1 517.2,596.4 521.1,595.1 523.7,591.1 527.7,594.5 530.3,599.8 534.2,602.4 540.2,601.6 546.0,601.6 549.9,595.1 553.3,589.8 556.4,590.4 560.3,597.7 565.6,610.7 572.1,630.4 576.0,632.2 582.0,634.3 585.2,629.0 591.7,612.0" fill="none" stroke="#1e3cff" stroke-width="1.4" stroke-linejoin="round" stroke-linecap="round"/>
<rect x="50.4" y="676.7" width="541.5" height="90.0" fill="none" stroke="#000" stroke-width="1.5"/>
<line x1="50.2" y1="766.7" x2="50.2" y2="770.5" stroke="#000" stroke-width="1.0"/>
<line x1="128.2" y1="766.7" x2="128.2" y2="770.5" stroke="#000" stroke-width="1.0"/>
<line x1="206.1" y1="766.7" x2="206.1" y2="770.5" stroke="#000" stroke-width="1.0"/>
<line x1="284.1" y1="766.7" x2="284.1" y2="770.5" stroke="#000" stroke-width="1.0"/>
<line x1="362.0" y1="766.7" x2="362.0" y2="770.5" stroke="#000" stroke-width="1.0"/>
<line x1="440.0" y1="766.7" x2="440.0" y2="770.5" stroke="#000" stroke-width="1.0"/>
<line x1="517.9" y1="766.7" x2="517.9" y2="770.5" stroke="#000" stroke-width="1.0"/>
<line x1="47.0" y1="766.7" x2="50.4" y2="766.7" stroke="#000" stroke-width="1.1"/>
<line x1="47.0" y1="748.7" x2="50.4" y2="748.7" stroke="#000" stroke-width="1.1"/>
<line x1="47.0" y1="730.7" x2="50.4" y2="730.7" stroke="#000" stroke-width="1.1"/>
<line x1="47.0" y1="712.7" x2="50.4" y2="712.7" stroke="#000" stroke-width="1.1"/>
<line x1="47.0" y1="694.7" x2="50.4" y2="694.7" stroke="#000" stroke-width="1.1"/>
<line x1="47.0" y1="676.7" x2="50.4" y2="676.7" stroke="#000" stroke-width="1.1"/>
<rect x="107.04" y="760.40" width="3.248" height="6.30" fill="#f6b584" stroke="#f08228" stroke-width="1.1"/>
<rect x="110.29" y="746.90" width="3.248" height="19.80" fill="#f6b584" stroke="#f08228" stroke-width="1.1"/>
<rect x="113.54" y="756.80" width="3.248" height="9.90" fill="#f6b584" stroke="#f08228" stroke-width="1.1"/>
<rect x="120.03" y="743.30" width="3.248" height="23.40" fill="#f6b584" stroke="#f08228" stroke-width="1.1"/>
<rect x="123.28" y="732.50" width="3.248" height="34.20" fill="#f6b584" stroke="#f08228" stroke-width="1.1"/>
<rect x="126.53" y="726.20" width="3.248" height="40.50" fill="#f6b584" stroke="#f08228" stroke-width="1.1"/>
<rect x="129.78" y="736.10" width="3.248" height="30.60" fill="#f6b584" stroke="#f08228" stroke-width="1.1"/>
<rect x="133.02" y="760.40" width="3.248" height="6.30" fill="#f6b584" stroke="#f08228" stroke-width="1.1"/>
<rect x="139.52" y="762.20" width="3.248" height="4.50" fill="#f6b584" stroke="#f08228" stroke-width="1.1"/>
<rect x="142.77" y="754.10" width="3.248" height="12.60" fill="#f6b584" stroke="#f08228" stroke-width="1.1"/>
<rect x="146.02" y="729.80" width="3.248" height="36.90" fill="#f6b584" stroke="#f08228" stroke-width="1.1"/>
<rect x="149.26" y="736.10" width="3.248" height="30.60" fill="#f6b584" stroke="#f08228" stroke-width="1.1"/>
<rect x="152.51" y="749.60" width="3.248" height="17.10" fill="#f6b584" stroke="#f08228" stroke-width="1.1"/>
<rect x="155.76" y="754.10" width="3.248" height="12.60" fill="#f6b584" stroke="#f08228" stroke-width="1.1"/>
<rect x="165.50" y="728.00" width="3.248" height="38.70" fill="#f6b584" stroke="#f08228" stroke-width="1.1"/>
<rect x="168.75" y="722.60" width="3.248" height="44.10" fill="#f6b584" stroke="#f08228" stroke-width="1.1"/>
<rect x="172.00" y="715.40" width="3.248" height="51.30" fill="#f6b584" stroke="#f08228" stroke-width="1.1"/>
<rect x="175.25" y="731.60" width="3.248" height="35.10" fill="#f6b584" stroke="#f08228" stroke-width="1.1"/>
<rect x="178.50" y="759.50" width="3.248" height="7.20" fill="#f6b584" stroke="#f08228" stroke-width="1.1"/>
<rect x="204.48" y="746.00" width="3.248" height="20.70" fill="#f6b584" stroke="#f08228" stroke-width="1.1"/>
<rect x="207.73" y="710.00" width="3.248" height="56.70" fill="#f6b584" stroke="#f08228" stroke-width="1.1"/>
<rect x="210.98" y="687.50" width="3.248" height="79.20" fill="#f6b584" stroke="#f08228" stroke-width="1.1"/>
<rect x="214.22" y="722.60" width="3.248" height="44.10" fill="#f6b584" stroke="#f08228" stroke-width="1.1"/>
<rect x="217.47" y="746.00" width="3.248" height="20.70" fill="#f6b584" stroke="#f08228" stroke-width="1.1"/>
<rect x="220.72" y="706.40" width="3.248" height="60.30" fill="#f6b584" stroke="#f08228" stroke-width="1.1"/>
<rect x="223.97" y="736.10" width="3.248" height="30.60" fill="#f6b584" stroke="#f08228" stroke-width="1.1"/>
<rect x="240.21" y="757.70" width="3.248" height="9.00" fill="#f6b584" stroke="#f08228" stroke-width="1.1"/>
<rect x="243.46" y="722.60" width="3.248" height="44.10" fill="#f6b584" stroke="#f08228" stroke-width="1.1"/>
<rect x="246.70" y="718.10" width="3.248" height="48.60" fill="#f6b584" stroke="#f08228" stroke-width="1.1"/>
<rect x="249.95" y="754.10" width="3.248" height="12.60" fill="#f6b584" stroke="#f08228" stroke-width="1.1"/>
<rect x="253.20" y="764.00" width="3.248" height="2.70" fill="#f6b584" stroke="#f08228" stroke-width="1.1"/>
<rect x="279.18" y="762.20" width="3.248" height="4.50" fill="#f6b584" stroke="#f08228" stroke-width="1.1"/>
<rect x="282.43" y="745.10" width="3.248" height="21.60" fill="#f6b584" stroke="#f08228" stroke-width="1.1"/>
<rect x="285.68" y="719.00" width="3.248" height="47.70" fill="#f6b584" stroke="#f08228" stroke-width="1.1"/>
<rect x="288.93" y="692.00" width="3.248" height="74.70" fill="#f6b584" stroke="#f08228" stroke-width="1.1"/>
<rect x="292.18" y="677.60" width="3.248" height="89.10" fill="#f6b584" stroke="#f08228" stroke-width="1.1"/>
<rect x="295.42" y="724.40" width="3.248" height="42.30" fill="#f6b584" stroke="#f08228" stroke-width="1.1"/>
<rect x="298.67" y="765.80" width="3.248" height="0.90" fill="#f6b584" stroke="#f08228" stroke-width="1.1"/>
<rect x="305.17" y="765.80" width="3.248" height="0.90" fill="#f6b584" stroke="#f08228" stroke-width="1.1"/>
<rect x="308.42" y="728.00" width="3.248" height="38.70" fill="#f6b584" stroke="#f08228" stroke-width="1.1"/>
<rect x="311.66" y="684.80" width="3.248" height="81.90" fill="#f6b584" stroke="#f08228" stroke-width="1.1"/>
<rect x="314.91" y="677.60" width="3.248" height="89.10" fill="#f6b584" stroke="#f08228" stroke-width="1.1"/>
<rect x="318.16" y="683.90" width="3.248" height="82.80" fill="#f6b584" stroke="#f08228" stroke-width="1.1"/>
<rect x="321.41" y="718.10" width="3.248" height="48.60" fill="#f6b584" stroke="#f08228" stroke-width="1.1"/>
<rect x="324.66" y="748.70" width="3.248" height="18.00" fill="#f6b584" stroke="#f08228" stroke-width="1.1"/>
<rect x="327.90" y="758.60" width="3.248" height="8.10" fill="#f6b584" stroke="#f08228" stroke-width="1.1"/>
<rect x="331.15" y="759.50" width="3.248" height="7.20" fill="#f6b584" stroke="#f08228" stroke-width="1.1"/>
<rect x="334.40" y="765.80" width="3.248" height="0.90" fill="#f6b584" stroke="#f08228" stroke-width="1.1"/>
<rect x="350.64" y="765.80" width="3.248" height="0.90" fill="#f6b584" stroke="#f08228" stroke-width="1.1"/>
<rect x="353.89" y="754.10" width="3.248" height="12.60" fill="#f6b584" stroke="#f08228" stroke-width="1.1"/>
<rect x="357.14" y="729.80" width="3.248" height="36.90" fill="#f6b584" stroke="#f08228" stroke-width="1.1"/>
<rect x="360.38" y="717.20" width="3.248" height="49.50" fill="#f6b584" stroke="#f08228" stroke-width="1.1"/>
<rect x="363.63" y="721.70" width="3.248" height="45.00" fill="#f6b584" stroke="#f08228" stroke-width="1.1"/>
<rect x="366.88" y="749.60" width="3.248" height="17.10" fill="#f6b584" stroke="#f08228" stroke-width="1.1"/>
<rect x="370.13" y="764.90" width="3.248" height="1.80" fill="#f6b584" stroke="#f08228" stroke-width="1.1"/>
<rect x="415.60" y="746.90" width="3.248" height="19.80" fill="#f6b584" stroke="#f08228" stroke-width="1.1"/>
<rect x="418.85" y="709.10" width="3.248" height="57.60" fill="#f6b584" stroke="#f08228" stroke-width="1.1"/>
<rect x="422.10" y="684.80" width="3.248" height="81.90" fill="#f6b584" stroke="#f08228" stroke-width="1.1"/>
<rect x="425.34" y="687.50" width="3.248" height="79.20" fill="#f6b584" stroke="#f08228" stroke-width="1.1"/>
<rect x="428.59" y="720.80" width="3.248" height="45.90" fill="#f6b584" stroke="#f08228" stroke-width="1.1"/>
<rect x="431.84" y="746.00" width="3.248" height="20.70" fill="#f6b584" stroke="#f08228" stroke-width="1.1"/>
<rect x="435.09" y="757.70" width="3.248" height="9.00" fill="#f6b584" stroke="#f08228" stroke-width="1.1"/>
<rect x="438.34" y="754.10" width="3.248" height="12.60" fill="#f6b584" stroke="#f08228" stroke-width="1.1"/>
<rect x="441.58" y="759.50" width="3.248" height="7.20" fill="#f6b584" stroke="#f08228" stroke-width="1.1"/>
<rect x="444.83" y="764.00" width="3.248" height="2.70" fill="#f6b584" stroke="#f08228" stroke-width="1.1"/>
<rect x="487.06" y="763.10" width="3.248" height="3.60" fill="#f6b584" stroke="#f08228" stroke-width="1.1"/>
<rect x="490.30" y="748.70" width="3.248" height="18.00" fill="#f6b584" stroke="#f08228" stroke-width="1.1"/>
<rect x="493.55" y="721.70" width="3.248" height="45.00" fill="#f6b584" stroke="#f08228" stroke-width="1.1"/>
<rect x="496.80" y="706.40" width="3.248" height="60.30" fill="#f6b584" stroke="#f08228" stroke-width="1.1"/>
<rect x="500.05" y="698.30" width="3.248" height="68.40" fill="#f6b584" stroke="#f08228" stroke-width="1.1"/>
<rect x="503.30" y="701.90" width="3.248" height="64.80" fill="#f6b584" stroke="#f08228" stroke-width="1.1"/>
<rect x="506.54" y="717.20" width="3.248" height="49.50" fill="#f6b584" stroke="#f08228" stroke-width="1.1"/>
<rect x="509.79" y="724.40" width="3.248" height="42.30" fill="#f6b584" stroke="#f08228" stroke-width="1.1"/>
<rect x="513.04" y="717.20" width="3.248" height="49.50" fill="#f6b584" stroke="#f08228" stroke-width="1.1"/>
<rect x="516.29" y="692.00" width="3.248" height="74.70" fill="#f6b584" stroke="#f08228" stroke-width="1.1"/>
<rect x="519.54" y="676.70" width="3.248" height="90.00" fill="#f6b584" stroke="#f08228" stroke-width="1.1"/>
<rect x="522.78" y="676.70" width="3.248" height="90.00" fill="#f6b584" stroke="#f08228" stroke-width="1.1"/>
<rect x="526.03" y="676.70" width="3.248" height="90.00" fill="#f6b584" stroke="#f08228" stroke-width="1.1"/>
<rect x="529.28" y="676.70" width="3.248" height="90.00" fill="#f6b584" stroke="#f08228" stroke-width="1.1"/>
<rect x="532.53" y="676.70" width="3.248" height="90.00" fill="#f6b584" stroke="#f08228" stroke-width="1.1"/>
<rect x="535.78" y="676.70" width="3.248" height="90.00" fill="#f6b584" stroke="#f08228" stroke-width="1.1"/>
<rect x="539.02" y="676.70" width="3.248" height="90.00" fill="#f6b584" stroke="#f08228" stroke-width="1.1"/>
<rect x="542.27" y="688.40" width="3.248" height="78.30" fill="#f6b584" stroke="#f08228" stroke-width="1.1"/>
<rect x="545.52" y="708.20" width="3.248" height="58.50" fill="#f6b584" stroke="#f08228" stroke-width="1.1"/>
<rect x="548.77" y="681.20" width="3.248" height="85.50" fill="#f6b584" stroke="#f08228" stroke-width="1.1"/>
<rect x="552.02" y="676.70" width="3.248" height="90.00" fill="#f6b584" stroke="#f08228" stroke-width="1.1"/>
<rect x="555.26" y="699.20" width="3.248" height="67.50" fill="#f6b584" stroke="#f08228" stroke-width="1.1"/>
<rect x="558.51" y="750.50" width="3.248" height="16.20" fill="#f6b584" stroke="#f08228" stroke-width="1.1"/>
<rect x="578.00" y="756.80" width="3.248" height="9.90" fill="#f6b584" stroke="#f08228" stroke-width="1.1"/>
<rect x="584.50" y="737.90" width="3.248" height="28.80" fill="#f6b584" stroke="#f08228" stroke-width="1.1"/>
<rect x="587.74" y="683.00" width="3.248" height="83.70" fill="#f6b584" stroke="#f08228" stroke-width="1.1"/>
<rect x="116.78" y="765.80" width="3.248" height="0.90" fill="#b4ecb4" fill-opacity="0.6" stroke="#14dc14" stroke-width="1.1"/>
<rect x="178.50" y="756.80" width="3.248" height="9.90" fill="#b4ecb4" fill-opacity="0.6" stroke="#14dc14" stroke-width="1.1"/>
<rect x="181.74" y="754.10" width="3.248" height="12.60" fill="#b4ecb4" fill-opacity="0.6" stroke="#14dc14" stroke-width="1.1"/>
<rect x="184.99" y="714.50" width="3.248" height="52.20" fill="#b4ecb4" fill-opacity="0.6" stroke="#14dc14" stroke-width="1.1"/>
<rect x="188.24" y="690.20" width="3.248" height="76.50" fill="#b4ecb4" fill-opacity="0.6" stroke="#14dc14" stroke-width="1.1"/>
<rect x="191.49" y="692.00" width="3.248" height="74.70" fill="#b4ecb4" fill-opacity="0.6" stroke="#14dc14" stroke-width="1.1"/>
<rect x="194.74" y="759.50" width="3.248" height="7.20" fill="#b4ecb4" fill-opacity="0.6" stroke="#14dc14" stroke-width="1.1"/>
<rect x="197.98" y="764.00" width="3.248" height="2.70" fill="#b4ecb4" fill-opacity="0.6" stroke="#14dc14" stroke-width="1.1"/>
<rect x="201.23" y="764.00" width="3.248" height="2.70" fill="#b4ecb4" fill-opacity="0.6" stroke="#14dc14" stroke-width="1.1"/>
<rect x="490.30" y="765.80" width="3.248" height="0.90" fill="#b4ecb4" fill-opacity="0.6" stroke="#14dc14" stroke-width="1.1"/>
<rect x="493.55" y="764.00" width="3.248" height="2.70" fill="#b4ecb4" fill-opacity="0.6" stroke="#14dc14" stroke-width="1.1"/>
<rect x="496.80" y="758.60" width="3.248" height="8.10" fill="#b4ecb4" fill-opacity="0.6" stroke="#14dc14" stroke-width="1.1"/>
<rect x="500.05" y="765.80" width="3.248" height="0.90" fill="#b4ecb4" fill-opacity="0.6" stroke="#14dc14" stroke-width="1.1"/>
<rect x="503.30" y="765.80" width="3.248" height="0.90" fill="#b4ecb4" fill-opacity="0.6" stroke="#14dc14" stroke-width="1.1"/>
<rect x="568.26" y="765.80" width="3.248" height="0.90" fill="#b4ecb4" fill-opacity="0.6" stroke="#14dc14" stroke-width="1.1"/>
<rect x="571.50" y="765.80" width="3.248" height="0.90" fill="#b4ecb4" fill-opacity="0.6" stroke="#14dc14" stroke-width="1.1"/>
<rect x="574.75" y="762.20" width="3.248" height="4.50" fill="#b4ecb4" fill-opacity="0.6" stroke="#14dc14" stroke-width="1.1"/>
<rect x="587.74" y="762.20" width="3.248" height="4.50" fill="#b4ecb4" fill-opacity="0.6" stroke="#14dc14" stroke-width="1.1"/>
<line x1="50.4" y1="766.7" x2="591.1" y2="766.7" stroke="#1e3cff" stroke-width="1.3"/>
<rect x="61.57" y="733.40" width="3.248" height="33.30" fill="none" stroke="#1e3cff" stroke-width="1.2"/>
<rect x="64.82" y="676.70" width="3.248" height="90.00" fill="none" stroke="#1e3cff" stroke-width="1.2"/>
<rect x="68.06" y="676.70" width="3.248" height="90.00" fill="none" stroke="#1e3cff" stroke-width="1.2"/>
<rect x="71.31" y="676.70" width="3.248" height="90.00" fill="none" stroke="#1e3cff" stroke-width="1.2"/>
<rect x="74.56" y="676.70" width="3.248" height="90.00" fill="none" stroke="#1e3cff" stroke-width="1.2"/>
<rect x="77.81" y="676.70" width="3.248" height="90.00" fill="none" stroke="#1e3cff" stroke-width="1.2"/>
<rect x="81.06" y="676.70" width="3.248" height="90.00" fill="none" stroke="#1e3cff" stroke-width="1.2"/>
<rect x="84.30" y="689.30" width="3.248" height="77.40" fill="none" stroke="#1e3cff" stroke-width="1.2"/>
<rect x="97.30" y="764.00" width="3.248" height="2.70" fill="none" stroke="#1e3cff" stroke-width="1.2"/>
<rect x="103.79" y="764.00" width="3.248" height="2.70" fill="none" stroke="#1e3cff" stroke-width="1.2"/>
<rect x="107.04" y="763.10" width="3.248" height="3.60" fill="none" stroke="#1e3cff" stroke-width="1.2"/>
<rect x="110.29" y="756.80" width="3.248" height="9.90" fill="none" stroke="#1e3cff" stroke-width="1.2"/>
<rect x="113.54" y="761.30" width="3.248" height="5.40" fill="none" stroke="#1e3cff" stroke-width="1.2"/>
<rect x="116.78" y="755.00" width="3.248" height="11.70" fill="none" stroke="#1e3cff" stroke-width="1.2"/>
<rect x="120.03" y="742.40" width="3.248" height="24.30" fill="none" stroke="#1e3cff" stroke-width="1.2"/>
<rect x="123.28" y="759.50" width="3.248" height="7.20" fill="none" stroke="#1e3cff" stroke-width="1.2"/>
<rect x="136.27" y="755.90" width="3.248" height="10.80" fill="none" stroke="#1e3cff" stroke-width="1.2"/>
<rect x="139.52" y="708.20" width="3.248" height="58.50" fill="none" stroke="#1e3cff" stroke-width="1.2"/>
<rect x="142.77" y="688.40" width="3.248" height="78.30" fill="none" stroke="#1e3cff" stroke-width="1.2"/>
<rect x="146.02" y="686.60" width="3.248" height="80.10" fill="none" stroke="#1e3cff" stroke-width="1.2"/>
<rect x="149.26" y="681.20" width="3.248" height="85.50" fill="none" stroke="#1e3cff" stroke-width="1.2"/>
<rect x="152.51" y="701.00" width="3.248" height="65.70" fill="none" stroke="#1e3cff" stroke-width="1.2"/>
<rect x="155.76" y="716.30" width="3.248" height="50.40" fill="none" stroke="#1e3cff" stroke-width="1.2"/>
<rect x="159.01" y="711.80" width="3.248" height="54.90" fill="none" stroke="#1e3cff" stroke-width="1.2"/>
<rect x="162.26" y="737.00" width="3.248" height="29.70" fill="none" stroke="#1e3cff" stroke-width="1.2"/>
<rect x="165.50" y="760.40" width="3.248" height="6.30" fill="none" stroke="#1e3cff" stroke-width="1.2"/>
<rect x="191.49" y="746.90" width="3.248" height="19.80" fill="none" stroke="#1e3cff" stroke-width="1.2"/>
<rect x="194.74" y="754.10" width="3.248" height="12.60" fill="none" stroke="#1e3cff" stroke-width="1.2"/>
<rect x="197.98" y="737.90" width="3.248" height="28.80" fill="none" stroke="#1e3cff" stroke-width="1.2"/>
<rect x="201.23" y="750.50" width="3.248" height="16.20" fill="none" stroke="#1e3cff" stroke-width="1.2"/>
<rect x="204.48" y="757.70" width="3.248" height="9.00" fill="none" stroke="#1e3cff" stroke-width="1.2"/>
<rect x="207.73" y="758.60" width="3.248" height="8.10" fill="none" stroke="#1e3cff" stroke-width="1.2"/>
<rect x="210.98" y="764.90" width="3.248" height="1.80" fill="none" stroke="#1e3cff" stroke-width="1.2"/>
<rect x="223.97" y="764.90" width="3.248" height="1.80" fill="none" stroke="#1e3cff" stroke-width="1.2"/>
<rect x="227.22" y="752.30" width="3.248" height="14.40" fill="none" stroke="#1e3cff" stroke-width="1.2"/>
<rect x="230.46" y="744.20" width="3.248" height="22.50" fill="none" stroke="#1e3cff" stroke-width="1.2"/>
<rect x="233.71" y="756.80" width="3.248" height="9.90" fill="none" stroke="#1e3cff" stroke-width="1.2"/>
<rect x="269.44" y="764.00" width="3.248" height="2.70" fill="none" stroke="#1e3cff" stroke-width="1.2"/>
<rect x="272.69" y="758.60" width="3.248" height="8.10" fill="none" stroke="#1e3cff" stroke-width="1.2"/>
<rect x="344.14" y="764.90" width="3.248" height="1.80" fill="none" stroke="#1e3cff" stroke-width="1.2"/>
<rect x="366.88" y="760.40" width="3.248" height="6.30" fill="none" stroke="#1e3cff" stroke-width="1.2"/>
<rect x="370.13" y="729.80" width="3.248" height="36.90" fill="none" stroke="#1e3cff" stroke-width="1.2"/>
<rect x="373.38" y="701.00" width="3.248" height="65.70" fill="none" stroke="#1e3cff" stroke-width="1.2"/>
<rect x="376.62" y="708.20" width="3.248" height="58.50" fill="none" stroke="#1e3cff" stroke-width="1.2"/>
<rect x="379.87" y="715.40" width="3.248" height="51.30" fill="none" stroke="#1e3cff" stroke-width="1.2"/>
<rect x="383.12" y="720.80" width="3.248" height="45.90" fill="none" stroke="#1e3cff" stroke-width="1.2"/>
<rect x="386.37" y="728.00" width="3.248" height="38.70" fill="none" stroke="#1e3cff" stroke-width="1.2"/>
<rect x="389.62" y="726.20" width="3.248" height="40.50" fill="none" stroke="#1e3cff" stroke-width="1.2"/>
<rect x="392.86" y="724.40" width="3.248" height="42.30" fill="none" stroke="#1e3cff" stroke-width="1.2"/>
<rect x="396.11" y="738.80" width="3.248" height="27.90" fill="none" stroke="#1e3cff" stroke-width="1.2"/>
<rect x="399.36" y="757.70" width="3.248" height="9.00" fill="none" stroke="#1e3cff" stroke-width="1.2"/>
<rect x="451.33" y="761.30" width="3.248" height="5.40" fill="none" stroke="#1e3cff" stroke-width="1.2"/>
<rect x="454.58" y="739.70" width="3.248" height="27.00" fill="none" stroke="#1e3cff" stroke-width="1.2"/>
<rect x="457.82" y="728.00" width="3.248" height="38.70" fill="none" stroke="#1e3cff" stroke-width="1.2"/>
<rect x="461.07" y="701.90" width="3.248" height="64.80" fill="none" stroke="#1e3cff" stroke-width="1.2"/>
<rect x="464.32" y="679.40" width="3.248" height="87.30" fill="none" stroke="#1e3cff" stroke-width="1.2"/>
<rect x="467.57" y="676.70" width="3.248" height="90.00" fill="none" stroke="#1e3cff" stroke-width="1.2"/>
<rect x="470.82" y="681.20" width="3.248" height="85.50" fill="none" stroke="#1e3cff" stroke-width="1.2"/>
<rect x="474.06" y="735.20" width="3.248" height="31.50" fill="none" stroke="#1e3cff" stroke-width="1.2"/>
<rect x="477.31" y="760.40" width="3.248" height="6.30" fill="none" stroke="#1e3cff" stroke-width="1.2"/>
<rect x="509.79" y="761.30" width="3.248" height="5.40" fill="none" stroke="#1e3cff" stroke-width="1.2"/>
<rect x="516.29" y="754.10" width="3.248" height="12.60" fill="none" stroke="#1e3cff" stroke-width="1.2"/>
<rect x="519.54" y="749.60" width="3.248" height="17.10" fill="none" stroke="#1e3cff" stroke-width="1.2"/>
<rect x="522.78" y="713.60" width="3.248" height="53.10" fill="none" stroke="#1e3cff" stroke-width="1.2"/>
<rect x="526.03" y="676.70" width="3.248" height="90.00" fill="none" stroke="#1e3cff" stroke-width="1.2"/>
<rect x="529.28" y="676.70" width="3.248" height="90.00" fill="none" stroke="#1e3cff" stroke-width="1.2"/>
<rect x="532.53" y="676.70" width="3.248" height="90.00" fill="none" stroke="#1e3cff" stroke-width="1.2"/>
<rect x="535.78" y="676.70" width="3.248" height="90.00" fill="none" stroke="#1e3cff" stroke-width="1.2"/>
<rect x="539.02" y="676.70" width="3.248" height="90.00" fill="none" stroke="#1e3cff" stroke-width="1.2"/>
<rect x="542.27" y="676.70" width="3.248" height="90.00" fill="none" stroke="#1e3cff" stroke-width="1.2"/>
<rect x="545.52" y="680.30" width="3.248" height="86.40" fill="none" stroke="#1e3cff" stroke-width="1.2"/>
<rect x="548.77" y="683.00" width="3.248" height="83.70" fill="none" stroke="#1e3cff" stroke-width="1.2"/>
<rect x="552.02" y="739.70" width="3.248" height="27.00" fill="none" stroke="#1e3cff" stroke-width="1.2"/>
<rect x="555.26" y="728.90" width="3.248" height="37.80" fill="none" stroke="#1e3cff" stroke-width="1.2"/>
<rect x="558.51" y="764.00" width="3.248" height="2.70" fill="none" stroke="#1e3cff" stroke-width="1.2"/>
<rect x="561.76" y="763.10" width="3.248" height="3.60" fill="none" stroke="#1e3cff" stroke-width="1.2"/>
<rect x="565.01" y="750.50" width="3.248" height="16.20" fill="none" stroke="#1e3cff" stroke-width="1.2"/>
<rect x="568.26" y="747.80" width="3.248" height="18.90" fill="none" stroke="#1e3cff" stroke-width="1.2"/>
<rect x="571.50" y="719.00" width="3.248" height="47.70" fill="none" stroke="#1e3cff" stroke-width="1.2"/>
<rect x="574.75" y="709.10" width="3.248" height="57.60" fill="none" stroke="#1e3cff" stroke-width="1.2"/>
<rect x="578.00" y="764.90" width="3.248" height="1.80" fill="none" stroke="#1e3cff" stroke-width="1.2"/>
<rect x="581.25" y="764.90" width="3.248" height="1.80" fill="none" stroke="#1e3cff" stroke-width="1.2"/>
<rect x="587.74" y="762.20" width="3.248" height="4.50" fill="none" stroke="#1e3cff" stroke-width="1.2"/>
<line x1="50.4" y1="676.7" x2="50.4" y2="766.7" stroke="#aaaaaa" stroke-width="1.15" stroke-dasharray="1.7 4.78" stroke-dashoffset="1.85"/>
<line x1="128.2" y1="676.7" x2="128.2" y2="766.7" stroke="#aaaaaa" stroke-width="1.15" stroke-dasharray="1.7 4.78" stroke-dashoffset="1.85"/>
<line x1="206.1" y1="676.7" x2="206.1" y2="766.7" stroke="#aaaaaa" stroke-width="1.15" stroke-dasharray="1.7 4.78" stroke-dashoffset="1.85"/>
<line x1="284.1" y1="676.7" x2="284.1" y2="766.7" stroke="#aaaaaa" stroke-width="1.15" stroke-dasharray="1.7 4.78" stroke-dashoffset="1.85"/>
<line x1="362.0" y1="676.7" x2="362.0" y2="766.7" stroke="#aaaaaa" stroke-width="1.15" stroke-dasharray="1.7 4.78" stroke-dashoffset="1.85"/>
<line x1="440.0" y1="676.7" x2="440.0" y2="766.7" stroke="#aaaaaa" stroke-width="1.15" stroke-dasharray="1.7 4.78" stroke-dashoffset="1.85"/>
<line x1="517.9" y1="676.7" x2="517.9" y2="766.7" stroke="#aaaaaa" stroke-width="1.15" stroke-dasharray="1.7 4.78" stroke-dashoffset="1.85"/>
<line x1="50.4" y1="766.7" x2="591.9" y2="766.7" stroke="#aaaaaa" stroke-width="1.4" stroke-dasharray="1.85 4.63" stroke-dashoffset="0.72"/>
<line x1="50.4" y1="748.7" x2="591.9" y2="748.7" stroke="#aaaaaa" stroke-width="1.4" stroke-dasharray="1.85 4.63" stroke-dashoffset="0.72"/>
<line x1="50.4" y1="730.7" x2="591.9" y2="730.7" stroke="#aaaaaa" stroke-width="1.4" stroke-dasharray="1.85 4.63" stroke-dashoffset="0.72"/>
<line x1="50.4" y1="712.7" x2="591.9" y2="712.7" stroke="#aaaaaa" stroke-width="1.4" stroke-dasharray="1.85 4.63" stroke-dashoffset="0.72"/>
<line x1="50.4" y1="694.7" x2="591.9" y2="694.7" stroke="#aaaaaa" stroke-width="1.4" stroke-dasharray="1.85 4.63" stroke-dashoffset="0.72"/>
<line x1="50.4" y1="676.7" x2="591.9" y2="676.7" stroke="#aaaaaa" stroke-width="1.4" stroke-dasharray="1.85 4.63" stroke-dashoffset="0.72"/>
<text transform="translate(37.82,150.20) scale(0.7955,1)" font-size="11.9" fill="#000" stroke="#000" stroke-width="0.6" stroke-linejoin="round">7APR</text>
<text transform="translate(115.85,150.20) scale(0.7930,1)" font-size="11.9" fill="#000" stroke="#000" stroke-width="0.6" stroke-linejoin="round">8APR</text>
<text transform="translate(193.76,150.20) scale(0.7943,1)" font-size="11.9" fill="#000" stroke="#000" stroke-width="0.6" stroke-linejoin="round">9APR</text>
<text transform="translate(268.62,150.20) scale(0.8114,1)" font-size="11.9" fill="#000" stroke="#000" stroke-width="0.6" stroke-linejoin="round">10APR</text>
<text transform="translate(346.57,150.20) scale(0.8114,1)" font-size="11.9" fill="#000" stroke="#000" stroke-width="0.6" stroke-linejoin="round">11APR</text>
<text transform="translate(424.53,150.20) scale(0.8114,1)" font-size="11.9" fill="#000" stroke="#000" stroke-width="0.6" stroke-linejoin="round">12APR</text>
<text transform="translate(502.48,150.20) scale(0.8114,1)" font-size="11.9" fill="#000" stroke="#000" stroke-width="0.6" stroke-linejoin="round">13APR</text>
<text transform="translate(37.95,161.50) scale(0.9192,1)" font-size="11.9" fill="#000" stroke="#000" stroke-width="0.6" stroke-linejoin="round">2026</text>
<text transform="translate(38.11,140.65) scale(0.8887,1)" font-size="11.3" fill="#000" stroke="#000" stroke-width="0.55" stroke-linejoin="round">0</text>
<path d="M41.3,42.8L41.3,50.6M41.3,42.8L39.3,44.4" stroke="#000" stroke-width="1.35" fill="none" stroke-linecap="round"/>
<text transform="translate(72.23,44.30) scale(0.9200,1)" font-size="14.2" fill="#000" stroke="#000" stroke-width="0.15" stroke-linejoin="round" letter-spacing="1.757">Precipitacao (mm/h)</text>
<text transform="translate(37.82,276.20) scale(0.7955,1)" font-size="11.9" fill="#000" stroke="#000" stroke-width="0.6" stroke-linejoin="round">7APR</text>
<text transform="translate(115.85,276.20) scale(0.7930,1)" font-size="11.9" fill="#000" stroke="#000" stroke-width="0.6" stroke-linejoin="round">8APR</text>
<text transform="translate(193.76,276.20) scale(0.7943,1)" font-size="11.9" fill="#000" stroke="#000" stroke-width="0.6" stroke-linejoin="round">9APR</text>
<text transform="translate(268.62,276.20) scale(0.8114,1)" font-size="11.9" fill="#000" stroke="#000" stroke-width="0.6" stroke-linejoin="round">10APR</text>
<text transform="translate(346.57,276.20) scale(0.8114,1)" font-size="11.9" fill="#000" stroke="#000" stroke-width="0.6" stroke-linejoin="round">11APR</text>
<text transform="translate(424.53,276.20) scale(0.8114,1)" font-size="11.9" fill="#000" stroke="#000" stroke-width="0.6" stroke-linejoin="round">12APR</text>
<text transform="translate(502.48,276.20) scale(0.8114,1)" font-size="11.9" fill="#000" stroke="#000" stroke-width="0.6" stroke-linejoin="round">13APR</text>
<text transform="translate(37.95,287.50) scale(0.9192,1)" font-size="11.9" fill="#000" stroke="#000" stroke-width="0.6" stroke-linejoin="round">2026</text>
<text transform="translate(31.87,259.73) scale(0.9338,1)" font-size="11.3" fill="#000" stroke="#000" stroke-width="0.55" stroke-linejoin="round">24</text>
<text transform="translate(31.86,238.96) scale(0.9532,1)" font-size="11.3" fill="#000" stroke="#000" stroke-width="0.55" stroke-linejoin="round">27</text>
<text transform="translate(32.00,218.19) scale(0.9320,1)" font-size="11.3" fill="#000" stroke="#000" stroke-width="0.55" stroke-linejoin="round">30</text>
<text transform="translate(32.00,197.42) scale(0.9365,1)" font-size="11.3" fill="#000" stroke="#000" stroke-width="0.55" stroke-linejoin="round">33</text>
<text transform="translate(32.00,176.65) scale(0.9365,1)" font-size="11.3" fill="#000" stroke="#000" stroke-width="0.55" stroke-linejoin="round">36</text>
<text transform="translate(72.45,170.30) scale(0.9200,1)" font-size="14.2" fill="#000" stroke="#000" stroke-width="0.15" stroke-linejoin="round" letter-spacing="1.671">2–m Temperatura (C)</text>
<text transform="translate(37.82,402.20) scale(0.7955,1)" font-size="11.9" fill="#000" stroke="#000" stroke-width="0.6" stroke-linejoin="round">7APR</text>
<text transform="translate(115.85,402.20) scale(0.7930,1)" font-size="11.9" fill="#000" stroke="#000" stroke-width="0.6" stroke-linejoin="round">8APR</text>
<text transform="translate(193.76,402.20) scale(0.7943,1)" font-size="11.9" fill="#000" stroke="#000" stroke-width="0.6" stroke-linejoin="round">9APR</text>
<text transform="translate(268.62,402.20) scale(0.8114,1)" font-size="11.9" fill="#000" stroke="#000" stroke-width="0.6" stroke-linejoin="round">10APR</text>
<text transform="translate(346.57,402.20) scale(0.8114,1)" font-size="11.9" fill="#000" stroke="#000" stroke-width="0.6" stroke-linejoin="round">11APR</text>
<text transform="translate(424.53,402.20) scale(0.8114,1)" font-size="11.9" fill="#000" stroke="#000" stroke-width="0.6" stroke-linejoin="round">12APR</text>
<text transform="translate(502.48,402.20) scale(0.8114,1)" font-size="11.9" fill="#000" stroke="#000" stroke-width="0.6" stroke-linejoin="round">13APR</text>
<text transform="translate(37.95,413.50) scale(0.9192,1)" font-size="11.9" fill="#000" stroke="#000" stroke-width="0.6" stroke-linejoin="round">2026</text>
<text transform="translate(38.11,392.65) scale(0.8887,1)" font-size="11.3" fill="#000" stroke="#000" stroke-width="0.55" stroke-linejoin="round">0</text>
<text transform="translate(31.87,374.65) scale(0.9429,1)" font-size="11.3" fill="#000" stroke="#000" stroke-width="0.55" stroke-linejoin="round">20</text>
<text transform="translate(32.16,356.65) scale(0.9187,1)" font-size="11.3" fill="#000" stroke="#000" stroke-width="0.55" stroke-linejoin="round">40</text>
<text transform="translate(31.86,338.65) scale(0.9438,1)" font-size="11.3" fill="#000" stroke="#000" stroke-width="0.55" stroke-linejoin="round">60</text>
<text transform="translate(31.94,320.65) scale(0.9365,1)" font-size="11.3" fill="#000" stroke="#000" stroke-width="0.55" stroke-linejoin="round">80</text>
<text transform="translate(25.47,302.65) scale(0.9687,1)" font-size="11.3" fill="#000" stroke="#000" stroke-width="0.55" stroke-linejoin="round">100</text>
<text transform="translate(72.59,296.30) scale(0.9200,1)" font-size="14.2" fill="#000" stroke="#000" stroke-width="0.15" stroke-linejoin="round" letter-spacing="1.483">Umidade Relativa em 2m (%)</text>
<text transform="translate(37.82,528.20) scale(0.7955,1)" font-size="11.9" fill="#000" stroke="#000" stroke-width="0.6" stroke-linejoin="round">7APR</text>
<text transform="translate(115.85,528.20) scale(0.7930,1)" font-size="11.9" fill="#000" stroke="#000" stroke-width="0.6" stroke-linejoin="round">8APR</text>
<text transform="translate(193.76,528.20) scale(0.7943,1)" font-size="11.9" fill="#000" stroke="#000" stroke-width="0.6" stroke-linejoin="round">9APR</text>
<text transform="translate(268.62,528.20) scale(0.8114,1)" font-size="11.9" fill="#000" stroke="#000" stroke-width="0.6" stroke-linejoin="round">10APR</text>
<text transform="translate(346.57,528.20) scale(0.8114,1)" font-size="11.9" fill="#000" stroke="#000" stroke-width="0.6" stroke-linejoin="round">11APR</text>
<text transform="translate(424.53,528.20) scale(0.8114,1)" font-size="11.9" fill="#000" stroke="#000" stroke-width="0.6" stroke-linejoin="round">12APR</text>
<text transform="translate(502.48,528.20) scale(0.8114,1)" font-size="11.9" fill="#000" stroke="#000" stroke-width="0.6" stroke-linejoin="round">13APR</text>
<text transform="translate(37.95,539.50) scale(0.9192,1)" font-size="11.9" fill="#000" stroke="#000" stroke-width="0.6" stroke-linejoin="round">2026</text>
<text transform="translate(37.97,518.65) scale(0.9315,1)" font-size="11.3" fill="#000" stroke="#000" stroke-width="0.55" stroke-linejoin="round">2</text>
<text transform="translate(38.12,503.65) scale(0.8962,1)" font-size="11.3" fill="#000" stroke="#000" stroke-width="0.55" stroke-linejoin="round">3</text>
<text transform="translate(38.28,488.65) scale(0.8428,1)" font-size="11.3" fill="#000" stroke="#000" stroke-width="0.55" stroke-linejoin="round">4</text>
<text transform="translate(38.09,473.65) scale(0.8962,1)" font-size="11.3" fill="#000" stroke="#000" stroke-width="0.55" stroke-linejoin="round">5</text>
<text transform="translate(37.97,458.65) scale(0.9214,1)" font-size="11.3" fill="#000" stroke="#000" stroke-width="0.55" stroke-linejoin="round">6</text>
<text transform="translate(37.96,443.65) scale(0.9336,1)" font-size="11.3" fill="#000" stroke="#000" stroke-width="0.55" stroke-linejoin="round">7</text>
<text transform="translate(38.06,428.65) scale(0.9038,1)" font-size="11.3" fill="#000" stroke="#000" stroke-width="0.55" stroke-linejoin="round">8</text>
<text transform="translate(72.13,422.30) scale(0.9200,1)" font-size="14.2" fill="#000" stroke="#000" stroke-width="0.15" stroke-linejoin="round" letter-spacing="2.209">Vento em 10m (m/s)</text>
<text transform="translate(37.82,654.20) scale(0.7955,1)" font-size="11.9" fill="#000" stroke="#000" stroke-width="0.6" stroke-linejoin="round">7APR</text>
<text transform="translate(115.85,654.20) scale(0.7930,1)" font-size="11.9" fill="#000" stroke="#000" stroke-width="0.6" stroke-linejoin="round">8APR</text>
<text transform="translate(193.76,654.20) scale(0.7943,1)" font-size="11.9" fill="#000" stroke="#000" stroke-width="0.6" stroke-linejoin="round">9APR</text>
<text transform="translate(268.62,654.20) scale(0.8114,1)" font-size="11.9" fill="#000" stroke="#000" stroke-width="0.6" stroke-linejoin="round">10APR</text>
<text transform="translate(346.57,654.20) scale(0.8114,1)" font-size="11.9" fill="#000" stroke="#000" stroke-width="0.6" stroke-linejoin="round">11APR</text>
<text transform="translate(424.53,654.20) scale(0.8114,1)" font-size="11.9" fill="#000" stroke="#000" stroke-width="0.6" stroke-linejoin="round">12APR</text>
<text transform="translate(502.48,654.20) scale(0.8114,1)" font-size="11.9" fill="#000" stroke="#000" stroke-width="0.6" stroke-linejoin="round">13APR</text>
<text transform="translate(37.95,665.50) scale(0.9192,1)" font-size="11.9" fill="#000" stroke="#000" stroke-width="0.6" stroke-linejoin="round">2026</text>
<text transform="translate(19.37,636.47) scale(0.9711,1)" font-size="11.3" fill="#000" stroke="#000" stroke-width="0.55" stroke-linejoin="round">1008</text>
<text transform="translate(19.37,620.10) scale(0.9693,1)" font-size="11.3" fill="#000" stroke="#000" stroke-width="0.55" stroke-linejoin="round">1010</text>
<text transform="translate(19.36,603.74) scale(0.9744,1)" font-size="11.3" fill="#000" stroke="#000" stroke-width="0.55" stroke-linejoin="round">1012</text>
<text transform="translate(19.37,587.38) scale(0.9647,1)" font-size="11.3" fill="#000" stroke="#000" stroke-width="0.55" stroke-linejoin="round">1014</text>
<text transform="translate(19.37,571.01) scale(0.9716,1)" font-size="11.3" fill="#000" stroke="#000" stroke-width="0.55" stroke-linejoin="round">1016</text>
<text transform="translate(19.37,554.65) scale(0.9711,1)" font-size="11.3" fill="#000" stroke="#000" stroke-width="0.55" stroke-linejoin="round">1018</text>
<text transform="translate(72.23,548.30) scale(0.9200,1)" font-size="14.2" fill="#000" stroke="#000" stroke-width="0.15" stroke-linejoin="round" letter-spacing="1.443">Pressao ao Nivel Medio do Mar (hPa)</text>
<text transform="translate(37.82,780.20) scale(0.7955,1)" font-size="11.9" fill="#000" stroke="#000" stroke-width="0.6" stroke-linejoin="round">7APR</text>
<text transform="translate(115.85,780.20) scale(0.7930,1)" font-size="11.9" fill="#000" stroke="#000" stroke-width="0.6" stroke-linejoin="round">8APR</text>
<text transform="translate(193.76,780.20) scale(0.7943,1)" font-size="11.9" fill="#000" stroke="#000" stroke-width="0.6" stroke-linejoin="round">9APR</text>
<text transform="translate(268.62,780.20) scale(0.8114,1)" font-size="11.9" fill="#000" stroke="#000" stroke-width="0.6" stroke-linejoin="round">10APR</text>
<text transform="translate(346.57,780.20) scale(0.8114,1)" font-size="11.9" fill="#000" stroke="#000" stroke-width="0.6" stroke-linejoin="round">11APR</text>
<text transform="translate(424.53,780.20) scale(0.8114,1)" font-size="11.9" fill="#000" stroke="#000" stroke-width="0.6" stroke-linejoin="round">12APR</text>
<text transform="translate(502.48,780.20) scale(0.8114,1)" font-size="11.9" fill="#000" stroke="#000" stroke-width="0.6" stroke-linejoin="round">13APR</text>
<text transform="translate(37.95,791.50) scale(0.9192,1)" font-size="11.9" fill="#000" stroke="#000" stroke-width="0.6" stroke-linejoin="round">2026</text>
<text transform="translate(38.11,770.65) scale(0.8887,1)" font-size="11.3" fill="#000" stroke="#000" stroke-width="0.55" stroke-linejoin="round">0</text>
<text transform="translate(31.87,752.65) scale(0.9429,1)" font-size="11.3" fill="#000" stroke="#000" stroke-width="0.55" stroke-linejoin="round">20</text>
<text transform="translate(32.16,734.65) scale(0.9187,1)" font-size="11.3" fill="#000" stroke="#000" stroke-width="0.55" stroke-linejoin="round">40</text>
<text transform="translate(31.86,716.65) scale(0.9438,1)" font-size="11.3" fill="#000" stroke="#000" stroke-width="0.55" stroke-linejoin="round">60</text>
<text transform="translate(31.94,698.65) scale(0.9365,1)" font-size="11.3" fill="#000" stroke="#000" stroke-width="0.55" stroke-linejoin="round">80</text>
<text transform="translate(25.47,680.65) scale(0.9687,1)" font-size="11.3" fill="#000" stroke="#000" stroke-width="0.55" stroke-linejoin="round">100</text>
<text transform="translate(72.63,674.30) scale(0.9200,1)" font-size="14.2" fill="#000" stroke="#000" stroke-width="0.15" stroke-linejoin="round" letter-spacing="1.292">Cobertura de Nuvens (%)</text>
<text transform="translate(360.01,170.50) scale(0.9200,1)" font-size="14.2" fill="#00c8c8" stroke="#00c8c8" stroke-width="0.2" stroke-linejoin="round" letter-spacing="1.247">Temperatura Aparente (C)</text>
<rect x="252.2" y="663.0" width="6.9" height="10.2" fill="none" stroke="#1e3cff" stroke-width="1.1"/>
<text transform="translate(264.14,674.30) scale(0.9200,1)" font-size="14.2" fill="#1e3cff" stroke="#1e3cff" stroke-width="0.35" stroke-linejoin="round" letter-spacing="1.115">nuvens baixas</text>
<rect x="372.6" y="662.8" width="5.4" height="10.4" fill="none" stroke="#00dc00" stroke-width="1.1"/>
<text transform="translate(382.44,674.30) scale(0.9200,1)" font-size="14.2" fill="#00dc00" stroke="#00dc00" stroke-width="0.35" stroke-linejoin="round" letter-spacing="1.256">nuvens medias</text>
<rect x="492.4" y="662.8" width="6.1" height="10.4" fill="none" stroke="#f08228" stroke-width="1.1"/>
<text transform="translate(501.14,674.30) scale(0.9200,1)" font-size="14.2" fill="#f08228" stroke="#f08228" stroke-width="0.35" stroke-linejoin="round" letter-spacing="1.253">nuvens altas</text>
</svg></body></html>
